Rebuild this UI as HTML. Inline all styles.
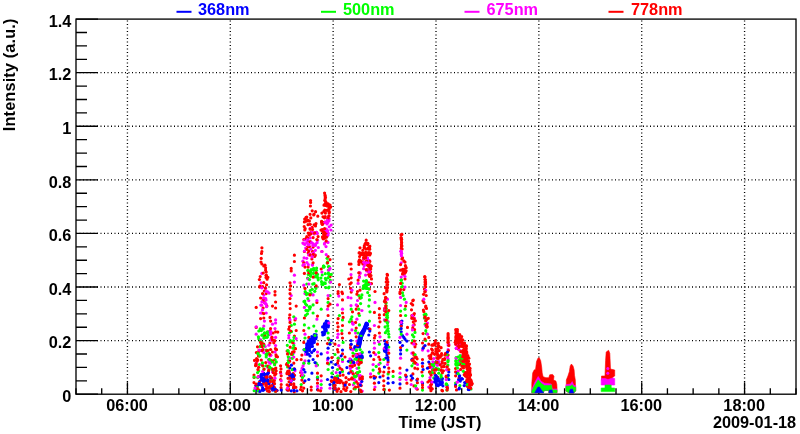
<!DOCTYPE html>
<html><head><meta charset="utf-8"><style>
html,body{margin:0;padding:0;background:#fff;width:800px;height:434px;overflow:hidden}
svg{display:block;will-change:transform}
text{font-family:"Liberation Sans",sans-serif;font-weight:bold;font-size:16.3px;fill:#000}
</style></head><body>
<svg width="800" height="434" viewBox="0 0 800 434">
<rect width="800" height="434" fill="#fff"/>
<g stroke="#000" stroke-width="1.33" stroke-dasharray="1 2.5" fill="none"><line x1="127.43" y1="394.2" x2="127.43" y2="19.1" stroke-dashoffset="1.75"/><line x1="230.29" y1="394.2" x2="230.29" y2="19.1" stroke-dashoffset="1.75"/><line x1="333.14" y1="394.2" x2="333.14" y2="19.1" stroke-dashoffset="1.75"/><line x1="436.00" y1="394.2" x2="436.00" y2="19.1" stroke-dashoffset="1.75"/><line x1="538.86" y1="394.2" x2="538.86" y2="19.1" stroke-dashoffset="1.75"/><line x1="641.71" y1="394.2" x2="641.71" y2="19.1" stroke-dashoffset="1.75"/><line x1="744.57" y1="394.2" x2="744.57" y2="19.1" stroke-dashoffset="1.75"/><line x1="76.0" y1="340.61" x2="796.0" y2="340.61"/><line x1="76.0" y1="287.03" x2="796.0" y2="287.03"/><line x1="76.0" y1="233.44" x2="796.0" y2="233.44"/><line x1="76.0" y1="179.86" x2="796.0" y2="179.86"/><line x1="76.0" y1="126.27" x2="796.0" y2="126.27"/><line x1="76.0" y1="72.69" x2="796.0" y2="72.69"/></g>
<path stroke="#000" stroke-width="1.33" fill="none" d="M76.0 394.20h22M76.0 380.80h11M76.0 367.41h11M76.0 354.01h11M76.0 340.61h22M76.0 327.22h11M76.0 313.82h11M76.0 300.42h11M76.0 287.03h22M76.0 273.63h11M76.0 260.24h11M76.0 246.84h11M76.0 233.44h22M76.0 220.05h11M76.0 206.65h11M76.0 193.25h11M76.0 179.86h22M76.0 166.46h11M76.0 153.06h11M76.0 139.67h11M76.0 126.27h22M76.0 112.88h11M76.0 99.48h11M76.0 86.08h11M76.0 72.69h22M76.0 59.29h11M76.0 45.89h11M76.0 32.50h11M76.0 19.10h22M76.00 394.2v-6M101.71 394.2v-6M127.43 394.2v-12M153.14 394.2v-6M178.86 394.2v-6M204.57 394.2v-6M230.29 394.2v-12M256.00 394.2v-6M281.71 394.2v-6M307.43 394.2v-6M333.14 394.2v-12M358.86 394.2v-6M384.57 394.2v-6M410.29 394.2v-6M436.00 394.2v-12M461.71 394.2v-6M487.43 394.2v-6M513.14 394.2v-6M538.86 394.2v-12M564.57 394.2v-6M590.29 394.2v-6M616.00 394.2v-6M641.71 394.2v-12M667.43 394.2v-6M693.14 394.2v-6M718.86 394.2v-6M744.57 394.2v-12M770.29 394.2v-6M796.00 394.2v-6"/>
<clipPath id="fr"><rect x="76" y="19.1" width="720" height="374.6"/></clipPath><g clip-path="url(#fr)"><g stroke-width="3.2" stroke-linecap="round" fill="none"><path stroke="#ff0000" d="M325.2 216.6h0"/><path stroke="#00ff00" d="M310.6 272.4h0"/><path stroke="#ff0000" d="M293.1 373.5h0M326.2 202.5h0"/><path stroke="#ff00ff" d="M342.5 361.4h0M457.7 346.8h0"/><path stroke="#ff0000" d="M466.7 373.2h0"/><path stroke="#0000ff" d="M368.5 328.6h0"/><path stroke="#ff00ff" d="M436.7 361.7h0"/><path stroke="#00ff00" d="M258.8 338.7h0"/><path stroke="#ff0000" d="M445.1 363.4h0"/><path stroke="#ff00ff" d="M367.0 270.6h0"/><path stroke="#ff0000" d="M441.1 347.7h0"/><path stroke="#0000ff" d="M360.9 339.8h0"/><path stroke="#ff0000" d="M338.1 293.6h0"/><path stroke="#00ff00" d="M291.7 354.7h0"/><path stroke="#ff00ff" d="M357.1 368.3h0"/><path stroke="#0000ff" d="M387.0 355.0h0"/><path stroke="#ff00ff" d="M293.8 352.6h0"/><path stroke="#0000ff" d="M260.7 384.4h0M314.6 349.6h0"/><path stroke="#00ff00" d="M309.4 307.2h0"/><path stroke="#ff00ff" d="M272.5 372.0h0"/><path stroke="#ff0000" d="M331.9 357.6h0"/><path stroke="#ff00ff" d="M358.1 283.4h0"/><path stroke="#0000ff" d="M308.4 344.0h0"/><path stroke="#00ff00" d="M458.3 364.7h0"/><path stroke="#ff0000" d="M256.4 352.6h0M422.5 366.4h0M323.0 216.8h0"/><path stroke="#ff00ff" d="M302.2 368.2h0"/><path stroke="#00ff00" d="M328.6 287.8h0M309.6 307.1h0"/><path stroke="#ff0000" d="M306.1 217.4h0"/><path stroke="#00ff00" d="M355.2 354.4h0M342.5 359.5h0M343.1 342.4h0M266.6 354.0h0M387.7 325.7h0"/><path stroke="#ff0000" d="M259.4 279.6h0"/><path stroke="#ff00ff" d="M433.9 358.5h0"/><path stroke="#00ff00" d="M351.9 316.8h0M361.2 362.0h0M262.1 342.4h0"/><path stroke="#ff0000" d="M426.8 327.0h0M352.0 377.8h0"/><path stroke="#ff00ff" d="M360.7 383.0h0"/><path stroke="#ff0000" d="M426.2 295.5h0"/><path stroke="#0000ff" d="M322.8 334.9h0"/><path stroke="#00ff00" d="M330.2 280.1h0"/><path stroke="#ff00ff" d="M448.1 345.0h0"/><path stroke="#ff0000" d="M281.0 368.9h0"/><path stroke="#ff00ff" d="M384.4 319.9h0"/><path stroke="#ff0000" d="M294.2 368.8h0M463.2 345.6h0"/><path stroke="#00ff00" d="M308.3 274.5h0"/><path stroke="#ff00ff" d="M375.6 354.5h0"/><path stroke="#00ff00" d="M306.8 284.0h0"/><path stroke="#0000ff" d="M287.5 390.1h0"/><path stroke="#ff0000" d="M461.7 340.8h0"/><path stroke="#0000ff" d="M263.6 373.1h0"/><path stroke="#00ff00" d="M266.2 365.8h0M406.9 350.1h0"/><path stroke="#ff00ff" d="M304.0 363.2h0"/><path stroke="#ff0000" d="M290.6 285.9h0M443.6 366.7h0M363.6 257.5h0"/><path stroke="#ff00ff" d="M260.8 341.8h0"/><path stroke="#ff0000" d="M438.3 343.4h0M324.5 217.8h0"/><path stroke="#0000ff" d="M314.2 342.4h0"/><path stroke="#ff00ff" d="M373.1 364.5h0"/><path stroke="#ff0000" d="M266.2 293.6h0M425.3 290.1h0M464.4 354.8h0"/><path stroke="#0000ff" d="M440.3 382.5h0"/><path stroke="#00ff00" d="M425.6 340.5h0"/><path stroke="#ff0000" d="M280.6 379.5h0"/><path stroke="#0000ff" d="M386.2 346.1h0"/><path stroke="#00ff00" d="M456.1 357.7h0M378.8 373.2h0"/><path stroke="#ff00ff" d="M401.2 262.8h0"/><path stroke="#ff0000" d="M254.5 360.4h0M413.9 354.9h0"/><path stroke="#ff00ff" d="M261.9 273.4h0"/><path stroke="#ff0000" d="M368.7 274.5h0"/><path stroke="#ff00ff" d="M267.6 291.8h0"/><path stroke="#ff0000" d="M434.3 373.2h0"/><path stroke="#00ff00" d="M307.6 278.0h0"/><path stroke="#ff0000" d="M275.6 302.0h0M303.8 330.5h0"/><path stroke="#0000ff" d="M290.4 375.2h0M307.5 349.5h0"/><path stroke="#ff0000" d="M344.0 386.2h0M329.1 212.9h0M330.0 205.0h0M315.3 255.2h0M384.6 308.5h0"/><path stroke="#0000ff" d="M265.9 381.9h0M400.6 350.1h0"/><path stroke="#ff0000" d="M363.2 254.8h0"/><path stroke="#00ff00" d="M425.6 314.0h0"/><path stroke="#ff00ff" d="M400.0 373.2h0"/><path stroke="#ff0000" d="M423.1 333.6h0"/><path stroke="#00ff00" d="M400.6 311.1h0"/><path stroke="#ff0000" d="M456.5 389.9h0M457.7 344.8h0"/><path stroke="#00ff00" d="M388.1 373.9h0"/><path stroke="#0000ff" d="M257.8 390.7h0"/><path stroke="#ff0000" d="M306.8 236.5h0M258.3 352.6h0M342.5 299.9h0"/><path stroke="#ff00ff" d="M293.8 343.6h0"/><path stroke="#0000ff" d="M267.4 373.8h0"/><path stroke="#ff0000" d="M467.8 380.8h0M426.5 308.4h0M327.0 236.2h0"/><path stroke="#0000ff" d="M293.3 375.0h0"/><path stroke="#ff0000" d="M466.8 377.2h0M256.2 365.2h0M467.5 362.4h0M471.4 384.9h0M316.3 232.3h0M364.3 263.8h0M308.0 224.7h0"/><path stroke="#00ff00" d="M314.4 276.8h0"/><path stroke="#ff0000" d="M258.4 376.5h0M430.9 355.1h0"/><path stroke="#00ff00" d="M318.2 279.8h0M263.8 338.1h0"/><path stroke="#ff0000" d="M321.9 251.5h0M338.2 380.1h0"/><path stroke="#ff00ff" d="M261.7 305.2h0"/><path stroke="#ff0000" d="M313.7 214.9h0"/><path stroke="#ff00ff" d="M363.6 268.7h0"/><path stroke="#ff0000" d="M360.0 290.2h0M305.2 228.5h0M407.5 327.4h0M414.6 362.0h0"/><path stroke="#ff00ff" d="M281.2 380.8h0"/><path stroke="#ff0000" d="M274.7 363.8h0M466.3 348.7h0"/><path stroke="#0000ff" d="M293.6 378.0h0"/><path stroke="#00ff00" d="M447.9 378.3h0"/><path stroke="#ff0000" d="M462.7 359.5h0M425.0 282.1h0M321.6 221.3h0M351.9 321.8h0M357.0 356.8h0M349.4 333.0h0M264.5 334.0h0M357.8 383.6h0M459.2 337.0h0M470.8 379.8h0M345.9 382.6h0M317.8 216.2h0M465.4 375.9h0M351.4 378.9h0"/><path stroke="#ff00ff" d="M260.8 305.1h0"/><path stroke="#00ff00" d="M266.8 354.8h0"/><path stroke="#ff0000" d="M456.4 348.4h0M273.1 333.0h0"/><path stroke="#0000ff" d="M401.2 325.5h0"/><path stroke="#ff0000" d="M266.7 384.4h0"/><path stroke="#0000ff" d="M459.5 375.6h0"/><path stroke="#ff0000" d="M466.7 360.4h0M296.8 359.7h0M368.4 254.1h0"/><path stroke="#ff00ff" d="M305.0 360.8h0"/><path stroke="#ff0000" d="M273.5 382.3h0"/><path stroke="#0000ff" d="M386.9 343.0h0"/><path stroke="#ff00ff" d="M360.2 375.5h0"/><path stroke="#ff0000" d="M431.2 381.9h0"/><path stroke="#00ff00" d="M386.2 305.8h0"/><path stroke="#0000ff" d="M312.4 346.4h0"/><path stroke="#00ff00" d="M422.5 390.1h0"/><path stroke="#ff0000" d="M345.7 390.4h0M447.5 388.2h0M459.8 342.7h0"/><path stroke="#0000ff" d="M350.9 359.9h0"/><path stroke="#00ff00" d="M315.9 288.3h0M379.4 344.2h0"/><path stroke="#ff00ff" d="M291.2 295.5h0"/><path stroke="#ff0000" d="M358.8 313.6h0M467.8 355.6h0"/><path stroke="#ff00ff" d="M329.1 218.8h0"/><path stroke="#ff0000" d="M401.4 244.6h0M457.4 330.9h0M457.4 329.5h0M300.6 372.6h0M301.2 387.0h0"/><path stroke="#0000ff" d="M322.5 332.4h0"/><path stroke="#ff0000" d="M417.6 368.8h0"/><path stroke="#ff00ff" d="M304.1 257.8h0"/><path stroke="#00ff00" d="M329.4 266.9h0"/><path stroke="#ff00ff" d="M313.6 254.3h0"/><path stroke="#ff0000" d="M361.6 358.3h0"/><path stroke="#00ff00" d="M328.8 363.9h0"/><path stroke="#ff0000" d="M345.0 357.0h0"/><path stroke="#ff00ff" d="M367.5 260.3h0"/><path stroke="#00ff00" d="M292.7 354.4h0"/><path stroke="#0000ff" d="M309.7 347.7h0"/><path stroke="#00ff00" d="M362.1 357.1h0"/><path stroke="#0000ff" d="M442.0 380.9h0"/><path stroke="#ff0000" d="M373.8 352.6h0"/><path stroke="#0000ff" d="M324.5 333.1h0"/><path stroke="#ff0000" d="M348.8 279.0h0M367.2 269.7h0"/><path stroke="#0000ff" d="M384.8 351.3h0"/><path stroke="#ff00ff" d="M338.8 296.1h0"/><path stroke="#ff0000" d="M369.3 270.5h0"/><path stroke="#0000ff" d="M388.1 383.2h0"/><path stroke="#ff0000" d="M350.8 361.2h0"/><path stroke="#0000ff" d="M435.4 380.1h0"/><path stroke="#ff0000" d="M467.3 384.7h0M342.5 313.0h0M346.0 377.7h0"/><path stroke="#ff00ff" d="M314.2 234.0h0"/><path stroke="#0000ff" d="M459.7 379.1h0"/><path stroke="#ff00ff" d="M326.6 232.2h0"/><path stroke="#00ff00" d="M363.6 281.1h0"/><path stroke="#ff00ff" d="M267.9 367.4h0"/><path stroke="#00ff00" d="M268.9 353.2h0"/><path stroke="#ff0000" d="M417.2 389.2h0"/><path stroke="#00ff00" d="M304.4 324.9h0"/><path stroke="#ff0000" d="M421.9 372.0h0"/><path stroke="#ff00ff" d="M301.9 373.2h0"/><path stroke="#00ff00" d="M323.4 267.2h0"/><path stroke="#ff0000" d="M401.5 246.3h0M417.1 358.8h0"/><path stroke="#ff00ff" d="M308.8 300.5h0M337.5 304.9h0"/><path stroke="#00ff00" d="M259.5 356.1h0"/><path stroke="#ff0000" d="M324.4 232.5h0"/><path stroke="#0000ff" d="M406.9 341.1h0M448.8 372.0h0"/><path stroke="#ff00ff" d="M351.0 274.6h0M260.6 339.9h0"/><path stroke="#00ff00" d="M351.0 319.2h0"/><path stroke="#ff0000" d="M346.9 387.7h0M461.2 359.5h0M263.1 349.5h0"/><path stroke="#00ff00" d="M426.5 326.5h0"/><path stroke="#ff0000" d="M328.8 339.2h0M310.8 217.9h0M364.4 247.8h0M293.3 374.0h0"/><path stroke="#0000ff" d="M256.0 388.9h0"/><path stroke="#00ff00" d="M258.7 370.8h0"/><path stroke="#ff0000" d="M375.6 377.0h0"/><path stroke="#00ff00" d="M426.3 333.6h0"/><path stroke="#ff0000" d="M412.8 300.7h0M258.6 389.8h0M429.0 356.1h0M405.6 272.1h0"/><path stroke="#0000ff" d="M366.8 324.7h0"/><path stroke="#ff0000" d="M342.5 325.5h0M275.6 308.0h0"/><path stroke="#00ff00" d="M402.1 283.2h0"/><path stroke="#ff0000" d="M301.2 375.8h0M470.1 374.4h0"/><path stroke="#ff00ff" d="M295.0 370.8h0"/><path stroke="#ff0000" d="M384.4 301.4h0M281.0 387.6h0M463.0 354.1h0"/><path stroke="#0000ff" d="M326.3 331.0h0"/><path stroke="#ff0000" d="M401.2 326.1h0M264.4 302.4h0M384.4 340.5h0M277.0 390.5h0M254.0 375.0h0"/><path stroke="#ff00ff" d="M367.8 270.6h0"/><path stroke="#ff0000" d="M402.8 269.8h0"/><path stroke="#00ff00" d="M266.1 354.6h0"/><path stroke="#ff0000" d="M261.3 360.1h0"/><path stroke="#00ff00" d="M357.7 373.0h0"/><path stroke="#ff0000" d="M471.2 382.8h0M461.1 340.9h0M308.2 252.9h0M412.9 373.9h0M400.0 388.2h0"/><path stroke="#ff00ff" d="M328.6 216.4h0"/><path stroke="#ff0000" d="M340.0 375.5h0"/><path stroke="#0000ff" d="M467.4 385.9h0"/><path stroke="#ff0000" d="M371.0 275.5h0M290.0 289.6h0"/><path stroke="#0000ff" d="M290.7 382.1h0"/><path stroke="#ff00ff" d="M272.0 337.2h0"/><path stroke="#0000ff" d="M304.0 349.8h0"/><path stroke="#ff0000" d="M304.2 226.5h0M294.4 261.5h0"/><path stroke="#00ff00" d="M266.2 350.1h0M269.8 367.8h0"/><path stroke="#0000ff" d="M406.2 376.4h0"/><path stroke="#00ff00" d="M288.7 352.8h0M464.4 365.5h0"/><path stroke="#ff0000" d="M268.0 373.3h0"/><path stroke="#00ff00" d="M271.2 379.5h0"/><path stroke="#ff0000" d="M324.8 200.6h0"/><path stroke="#0000ff" d="M312.1 342.4h0"/><path stroke="#ff0000" d="M383.8 372.0h0M290.2 308.6h0M275.4 348.5h0"/><path stroke="#00ff00" d="M308.8 363.2h0"/><path stroke="#ff0000" d="M446.9 367.0h0M448.1 342.5h0"/><path stroke="#0000ff" d="M437.2 385.3h0"/><path stroke="#ff0000" d="M406.1 270.8h0M371.5 283.6h0"/><path stroke="#0000ff" d="M276.8 390.3h0"/><path stroke="#ff0000" d="M388.1 362.0h0M258.5 355.9h0"/><path stroke="#0000ff" d="M306.8 345.9h0"/><path stroke="#ff0000" d="M432.3 388.8h0M471.4 381.3h0"/><path stroke="#ff00ff" d="M265.6 288.4h0"/><path stroke="#ff0000" d="M386.9 290.9h0M268.5 371.7h0M327.0 210.4h0M385.9 302.6h0"/><path stroke="#00ff00" d="M471.0 389.0h0M324.2 282.9h0"/><path stroke="#ff00ff" d="M338.8 365.8h0"/><path stroke="#ff0000" d="M274.7 375.2h0M370.0 276.5h0M469.6 374.3h0M460.9 342.9h0M362.1 253.1h0M288.8 329.2h0M287.1 351.0h0"/><path stroke="#0000ff" d="M305.9 353.1h0"/><path stroke="#ff0000" d="M256.8 386.3h0"/><path stroke="#00ff00" d="M385.1 326.9h0M341.9 330.5h0M273.4 369.4h0"/><path stroke="#0000ff" d="M264.4 389.5h0"/><path stroke="#ff0000" d="M263.8 318.0h0"/><path stroke="#0000ff" d="M437.3 378.7h0"/><path stroke="#ff0000" d="M373.8 376.4h0M339.4 284.6h0M270.6 321.1h0"/><path stroke="#ff00ff" d="M310.5 241.9h0"/><path stroke="#ff0000" d="M350.0 284.0h0"/><path stroke="#00ff00" d="M265.2 336.3h0M311.2 293.7h0"/><path stroke="#ff0000" d="M456.2 335.5h0M400.6 321.8h0M423.4 310.1h0M257.7 359.9h0M343.1 375.1h0"/><path stroke="#ff00ff" d="M263.8 352.6h0"/><path stroke="#0000ff" d="M364.3 330.9h0"/><path stroke="#ff0000" d="M325.0 204.6h0M469.9 370.2h0"/><path stroke="#0000ff" d="M458.8 379.7h0"/><path stroke="#00ff00" d="M306.7 305.2h0"/><path stroke="#ff0000" d="M335.0 344.2h0M265.7 378.5h0M464.5 343.2h0"/><path stroke="#00ff00" d="M352.9 353.0h0"/><path stroke="#ff00ff" d="M304.8 244.4h0M353.3 384.8h0"/><path stroke="#ff0000" d="M288.4 388.6h0M264.3 380.3h0M470.5 375.1h0M428.3 318.3h0M321.2 269.0h0M370.0 275.5h0"/><path stroke="#ff00ff" d="M303.1 365.8h0"/><path stroke="#ff0000" d="M469.9 375.5h0M264.4 336.1h0"/><path stroke="#00ff00" d="M301.2 384.5h0"/><path stroke="#ff0000" d="M273.2 370.7h0M429.7 363.9h0"/><path stroke="#ff00ff" d="M427.5 334.2h0"/><path stroke="#ff0000" d="M289.1 381.8h0"/><path stroke="#ff00ff" d="M266.2 313.0h0"/><path stroke="#ff0000" d="M385.8 308.1h0M384.4 310.5h0M323.6 233.9h0M431.1 372.8h0M435.9 348.9h0M296.2 306.1h0M308.8 250.9h0"/><path stroke="#00ff00" d="M376.2 366.4h0"/><path stroke="#0000ff" d="M326.2 323.7h0"/><path stroke="#ff0000" d="M360.6 260.9h0M294.4 348.2h0M275.6 391.5h0M388.1 357.6h0M334.1 380.4h0M291.5 353.9h0M427.0 326.9h0M328.1 315.5h0"/><path stroke="#00ff00" d="M436.2 368.2h0"/><path stroke="#ff0000" d="M464.1 343.7h0"/><path stroke="#0000ff" d="M291.4 376.0h0"/><path stroke="#ff0000" d="M445.8 354.9h0M325.5 201.6h0"/><path stroke="#00ff00" d="M462.3 366.0h0"/><path stroke="#ff0000" d="M441.1 370.1h0"/><path stroke="#00ff00" d="M268.2 366.7h0"/><path stroke="#ff0000" d="M457.6 335.1h0"/><path stroke="#0000ff" d="M362.4 334.8h0"/><path stroke="#00ff00" d="M447.9 361.7h0"/><path stroke="#0000ff" d="M365.2 328.8h0"/><path stroke="#00ff00" d="M257.7 377.6h0"/><path stroke="#ff0000" d="M435.5 343.3h0M370.1 253.1h0M303.8 239.6h0"/><path stroke="#00ff00" d="M455.6 383.0h0"/><path stroke="#ff00ff" d="M378.8 341.8h0"/><path stroke="#ff0000" d="M411.2 380.1h0M461.4 344.6h0M338.7 388.8h0M412.7 304.9h0"/><path stroke="#ff00ff" d="M424.4 318.0h0"/><path stroke="#ff0000" d="M344.6 384.6h0"/><path stroke="#00ff00" d="M327.2 263.1h0"/><path stroke="#ff0000" d="M312.2 210.8h0"/><path stroke="#00ff00" d="M438.5 369.4h0"/><path stroke="#0000ff" d="M326.0 329.3h0"/><path stroke="#ff0000" d="M364.3 245.9h0M468.2 357.6h0M359.4 276.5h0M323.7 222.7h0M267.9 277.3h0"/><path stroke="#00ff00" d="M326.1 279.9h0M367.7 292.6h0M425.1 324.2h0"/><path stroke="#ff00ff" d="M306.9 262.5h0"/><path stroke="#ff0000" d="M308.2 233.2h0M311.1 232.2h0M466.8 361.0h0"/><path stroke="#ff00ff" d="M437.4 365.3h0"/><path stroke="#ff0000" d="M330.0 276.5h0M265.6 270.2h0"/><path stroke="#ff00ff" d="M275.6 345.5h0"/><path stroke="#ff0000" d="M415.0 357.5h0"/><path stroke="#0000ff" d="M262.6 374.8h0"/><path stroke="#00ff00" d="M307.4 313.8h0"/><path stroke="#0000ff" d="M293.1 369.3h0"/><path stroke="#ff00ff" d="M265.6 298.6h0"/><path stroke="#ff0000" d="M327.9 217.9h0"/><path stroke="#00ff00" d="M268.6 334.8h0"/><path stroke="#ff0000" d="M263.3 273.0h0"/><path stroke="#0000ff" d="M348.5 361.3h0"/><path stroke="#ff0000" d="M411.9 343.0h0M275.0 294.9h0M442.4 372.8h0"/><path stroke="#00ff00" d="M413.8 363.2h0"/><path stroke="#ff00ff" d="M427.5 323.0h0"/><path stroke="#ff0000" d="M357.5 306.1h0"/><path stroke="#00ff00" d="M328.1 369.5h0"/><path stroke="#ff0000" d="M465.9 355.5h0M438.5 355.4h0"/><path stroke="#0000ff" d="M263.2 381.2h0"/><path stroke="#ff0000" d="M351.2 292.1h0"/><path stroke="#ff00ff" d="M400.6 297.4h0"/><path stroke="#0000ff" d="M351.0 349.0h0"/><path stroke="#00ff00" d="M323.6 266.1h0"/><path stroke="#ff0000" d="M276.0 349.7h0M387.8 281.9h0"/><path stroke="#ff00ff" d="M268.8 362.0h0"/><path stroke="#ff0000" d="M275.1 369.2h0"/><path stroke="#ff00ff" d="M321.2 388.2h0M388.1 350.1h0M256.2 363.2h0M327.9 222.5h0M436.3 363.8h0M414.4 318.0h0"/><path stroke="#ff0000" d="M425.8 306.0h0M366.2 240.2h0M369.9 265.8h0"/><path stroke="#0000ff" d="M405.0 339.2h0M448.8 379.5h0"/><path stroke="#ff00ff" d="M364.6 264.4h0"/><path stroke="#ff0000" d="M267.1 279.2h0M331.9 381.5h0"/><path stroke="#00ff00" d="M288.8 357.8h0M402.5 286.5h0"/><path stroke="#ff0000" d="M380.0 371.4h0M337.5 363.2h0M295.5 348.7h0M308.1 220.5h0M266.3 275.4h0M354.0 364.3h0M266.2 333.0h0"/><path stroke="#ff00ff" d="M265.1 298.6h0"/><path stroke="#ff0000" d="M465.0 358.5h0M386.2 282.1h0M427.1 326.3h0M384.1 293.7h0M457.3 339.1h0"/><path stroke="#ff00ff" d="M456.3 348.4h0"/><path stroke="#0000ff" d="M308.8 379.5h0"/><path stroke="#ff0000" d="M469.9 368.2h0"/><path stroke="#00ff00" d="M369.4 299.9h0"/><path stroke="#ff00ff" d="M465.0 360.0h0M348.1 297.4h0"/><path stroke="#00ff00" d="M360.6 303.6h0"/><path stroke="#ff00ff" d="M329.0 220.7h0M359.4 277.4h0"/><path stroke="#0000ff" d="M412.5 378.2h0"/><path stroke="#ff0000" d="M402.7 269.4h0"/><path stroke="#0000ff" d="M324.5 328.7h0M267.1 374.1h0"/><path stroke="#ff0000" d="M259.9 286.1h0"/><path stroke="#0000ff" d="M470.1 387.8h0M422.5 383.2h0"/><path stroke="#ff0000" d="M260.6 298.0h0M459.0 377.9h0M272.0 378.0h0M362.8 250.3h0"/><path stroke="#ff00ff" d="M367.4 269.8h0"/><path stroke="#ff0000" d="M309.4 246.7h0"/><path stroke="#ff00ff" d="M448.8 344.2h0"/><path stroke="#00ff00" d="M458.6 360.5h0"/><path stroke="#ff0000" d="M430.1 380.0h0M448.1 338.0h0M463.5 368.0h0"/><path stroke="#ff00ff" d="M416.2 388.2h0"/><path stroke="#00ff00" d="M313.1 304.9h0"/><path stroke="#ff0000" d="M426.6 319.4h0M367.6 254.4h0"/><path stroke="#0000ff" d="M358.5 341.5h0"/><path stroke="#ff0000" d="M378.8 326.8h0"/><path stroke="#ff00ff" d="M356.9 319.2h0"/><path stroke="#ff0000" d="M425.0 284.6h0M401.7 242.7h0M321.9 213.1h0M337.0 380.7h0"/><path stroke="#ff00ff" d="M462.5 355.6h0M308.6 254.9h0"/><path stroke="#00ff00" d="M275.0 359.5h0"/><path stroke="#ff00ff" d="M294.4 275.2h0"/><path stroke="#0000ff" d="M289.3 372.5h0M317.5 389.5h0"/><path stroke="#ff0000" d="M303.8 265.0h0"/><path stroke="#0000ff" d="M401.2 331.8h0"/><path stroke="#ff00ff" d="M358.1 375.5h0"/><path stroke="#ff0000" d="M305.0 267.1h0M464.8 359.2h0"/><path stroke="#0000ff" d="M359.1 339.5h0"/><path stroke="#00ff00" d="M402.5 292.8h0"/><path stroke="#ff0000" d="M360.0 339.2h0"/><path stroke="#00ff00" d="M316.2 331.1h0"/><path stroke="#0000ff" d="M352.2 361.4h0"/><path stroke="#ff0000" d="M467.1 385.9h0M428.8 344.2h0"/><path stroke="#0000ff" d="M366.2 323.0h0"/><path stroke="#ff0000" d="M366.0 249.1h0M373.8 359.5h0"/><path stroke="#ff00ff" d="M366.7 270.9h0M336.2 372.6h0"/><path stroke="#00ff00" d="M352.2 371.5h0"/><path stroke="#0000ff" d="M440.7 378.7h0"/><path stroke="#ff0000" d="M308.1 240.9h0"/><path stroke="#00ff00" d="M387.5 317.6h0"/><path stroke="#ff0000" d="M383.1 375.8h0M463.3 352.3h0M263.1 308.0h0"/><path stroke="#00ff00" d="M367.0 288.4h0"/><path stroke="#ff0000" d="M350.8 391.6h0"/><path stroke="#00ff00" d="M263.0 328.6h0M258.4 391.0h0"/><path stroke="#ff0000" d="M468.8 378.2h0M304.4 251.5h0M359.8 378.1h0M405.6 306.1h0M469.5 385.5h0M307.5 247.0h0"/><path stroke="#ff00ff" d="M448.1 358.8h0"/><path stroke="#0000ff" d="M332.5 367.6h0"/><path stroke="#ff0000" d="M275.7 373.5h0"/><path stroke="#0000ff" d="M435.4 375.5h0"/><path stroke="#ff0000" d="M355.6 322.4h0M465.5 354.1h0M379.4 368.9h0"/><path stroke="#0000ff" d="M313.1 359.5h0M455.6 385.2h0"/><path stroke="#ff0000" d="M401.2 239.6h0M368.2 266.0h0M430.9 388.6h0M313.1 247.1h0"/><path stroke="#0000ff" d="M366.4 325.7h0"/><path stroke="#ff0000" d="M470.3 382.0h0"/><path stroke="#0000ff" d="M447.1 385.6h0M281.2 390.1h0"/><path stroke="#00ff00" d="M328.4 266.7h0M287.3 345.3h0"/><path stroke="#ff0000" d="M464.2 374.8h0M363.6 259.1h0"/><path stroke="#0000ff" d="M309.7 350.4h0"/><path stroke="#ff00ff" d="M280.6 373.2h0"/><path stroke="#ff0000" d="M272.5 306.1h0"/><path stroke="#0000ff" d="M308.3 340.9h0"/><path stroke="#ff0000" d="M358.9 264.4h0M269.7 381.2h0"/><path stroke="#ff00ff" d="M308.8 284.0h0"/><path stroke="#ff0000" d="M329.0 215.8h0"/><path stroke="#00ff00" d="M387.2 312.7h0"/><path stroke="#ff0000" d="M369.8 254.9h0"/><path stroke="#ff00ff" d="M458.2 371.1h0"/><path stroke="#0000ff" d="M311.8 336.6h0M461.8 378.7h0"/><path stroke="#ff0000" d="M290.4 378.4h0"/><path stroke="#0000ff" d="M262.6 387.7h0"/><path stroke="#00ff00" d="M335.0 377.0h0"/><path stroke="#ff0000" d="M425.7 320.7h0M354.1 388.7h0"/><path stroke="#ff00ff" d="M359.4 272.8h0"/><path stroke="#ff0000" d="M461.9 358.0h0"/><path stroke="#ff00ff" d="M310.2 254.2h0"/><path stroke="#ff0000" d="M403.8 289.6h0"/><path stroke="#00ff00" d="M441.9 378.8h0M412.5 340.5h0"/><path stroke="#0000ff" d="M359.7 337.4h0"/><path stroke="#ff0000" d="M379.4 318.0h0"/><path stroke="#0000ff" d="M354.1 348.7h0"/><path stroke="#00ff00" d="M288.3 360.5h0"/><path stroke="#ff0000" d="M359.5 259.8h0M430.4 366.9h0"/><path stroke="#00ff00" d="M356.3 350.4h0"/><path stroke="#ff0000" d="M467.4 363.9h0M369.0 283.6h0"/><path stroke="#00ff00" d="M365.0 284.9h0"/><path stroke="#ff00ff" d="M461.2 345.0h0"/><path stroke="#00ff00" d="M305.3 303.5h0M356.0 349.8h0"/><path stroke="#0000ff" d="M312.5 338.9h0"/><path stroke="#ff0000" d="M401.9 245.9h0"/><path stroke="#00ff00" d="M387.0 320.0h0"/><path stroke="#ff0000" d="M317.5 355.8h0M445.8 353.4h0M257.9 369.5h0"/><path stroke="#ff00ff" d="M369.4 260.5h0"/><path stroke="#ff0000" d="M315.6 211.7h0M467.5 369.4h0"/><path stroke="#00ff00" d="M328.1 302.4h0"/><path stroke="#ff0000" d="M465.1 356.2h0M412.2 318.1h0"/><path stroke="#00ff00" d="M388.8 347.0h0M264.4 332.9h0"/><path stroke="#ff00ff" d="M456.2 358.4h0"/><path stroke="#ff0000" d="M286.6 364.6h0"/><path stroke="#00ff00" d="M259.5 364.5h0"/><path stroke="#ff0000" d="M335.0 385.1h0M417.4 382.7h0"/><path stroke="#ff00ff" d="M401.2 254.6h0"/><path stroke="#ff0000" d="M310.2 255.2h0M365.6 252.4h0"/><path stroke="#0000ff" d="M324.1 326.9h0"/><path stroke="#ff00ff" d="M355.6 333.0h0"/><path stroke="#00ff00" d="M339.4 315.5h0"/><path stroke="#ff0000" d="M441.7 366.9h0"/><path stroke="#00ff00" d="M328.3 270.0h0M432.4 372.5h0"/><path stroke="#ff0000" d="M467.7 357.1h0"/><path stroke="#0000ff" d="M466.9 381.7h0"/><path stroke="#00ff00" d="M267.3 333.1h0"/><path stroke="#ff0000" d="M362.0 261.9h0"/><path stroke="#ff00ff" d="M264.4 321.1h0"/><path stroke="#0000ff" d="M469.0 389.6h0"/><path stroke="#ff0000" d="M414.2 324.7h0M331.6 381.0h0M458.8 349.3h0M459.4 341.0h0"/><path stroke="#00ff00" d="M291.5 331.6h0M316.1 273.0h0"/><path stroke="#0000ff" d="M314.2 338.4h0"/><path stroke="#ff0000" d="M412.7 358.9h0M325.0 222.2h0"/><path stroke="#0000ff" d="M441.7 384.1h0"/><path stroke="#ff0000" d="M268.2 366.2h0"/><path stroke="#ff00ff" d="M328.8 270.2h0"/><path stroke="#ff0000" d="M463.8 354.8h0M369.6 274.0h0"/><path stroke="#00ff00" d="M316.3 277.0h0"/><path stroke="#0000ff" d="M359.4 347.0h0"/><path stroke="#00ff00" d="M425.8 330.7h0"/><path stroke="#ff0000" d="M434.2 344.9h0M431.1 358.7h0"/><path stroke="#00ff00" d="M380.0 363.2h0"/><path stroke="#ff00ff" d="M433.1 367.2h0M448.1 349.7h0"/><path stroke="#ff0000" d="M371.5 278.9h0"/><path stroke="#ff00ff" d="M288.8 338.0h0"/><path stroke="#ff0000" d="M406.2 267.7h0M370.5 272.2h0M465.1 372.7h0"/><path stroke="#ff00ff" d="M459.4 350.0h0"/><path stroke="#ff0000" d="M254.0 382.6h0M267.7 387.6h0"/><path stroke="#00ff00" d="M310.8 276.1h0M360.3 297.3h0"/><path stroke="#0000ff" d="M270.1 388.1h0"/><path stroke="#ff0000" d="M387.1 274.3h0M400.6 315.5h0"/><path stroke="#0000ff" d="M264.1 382.1h0"/><path stroke="#00ff00" d="M366.0 282.5h0M426.1 314.8h0"/><path stroke="#ff00ff" d="M256.2 334.2h0"/><path stroke="#0000ff" d="M348.8 373.2h0"/><path stroke="#ff0000" d="M468.3 368.9h0"/><path stroke="#0000ff" d="M361.9 353.0h0"/><path stroke="#ff0000" d="M356.2 309.2h0M423.8 311.6h0"/><path stroke="#0000ff" d="M416.9 380.1h0"/><path stroke="#00ff00" d="M360.3 297.9h0"/><path stroke="#ff0000" d="M431.2 366.9h0M465.7 361.8h0"/><path stroke="#ff00ff" d="M330.0 388.2h0"/><path stroke="#ff0000" d="M413.8 314.7h0"/><path stroke="#0000ff" d="M308.8 360.8h0"/><path stroke="#ff0000" d="M463.9 361.2h0M437.0 358.2h0"/><path stroke="#ff00ff" d="M413.1 325.5h0"/><path stroke="#0000ff" d="M364.8 329.9h0"/><path stroke="#ff0000" d="M416.0 363.3h0"/><path stroke="#ff00ff" d="M305.6 354.5h0"/><path stroke="#00ff00" d="M264.7 333.4h0"/><path stroke="#ff0000" d="M276.1 390.1h0"/><path stroke="#ff00ff" d="M313.4 253.2h0"/><path stroke="#ff0000" d="M387.0 279.7h0"/><path stroke="#0000ff" d="M387.5 344.9h0M439.1 384.5h0"/><path stroke="#ff00ff" d="M318.3 247.5h0"/><path stroke="#ff0000" d="M322.3 224.5h0"/><path stroke="#0000ff" d="M359.4 338.4h0"/><path stroke="#ff0000" d="M369.4 272.8h0"/><path stroke="#00ff00" d="M273.1 370.2h0"/><path stroke="#ff0000" d="M351.0 264.0h0"/><path stroke="#00ff00" d="M400.0 329.2h0"/><path stroke="#ff0000" d="M455.6 371.9h0"/><path stroke="#0000ff" d="M351.0 340.5h0M264.7 381.3h0"/><path stroke="#ff0000" d="M366.8 253.0h0"/><path stroke="#ff00ff" d="M405.0 287.1h0M328.0 242.4h0"/><path stroke="#ff0000" d="M327.5 363.2h0M465.5 345.8h0M340.0 368.2h0"/><path stroke="#00ff00" d="M313.9 270.3h0M321.8 284.2h0"/><path stroke="#ff0000" d="M329.0 205.2h0"/><path stroke="#00ff00" d="M384.4 389.5h0"/><path stroke="#0000ff" d="M386.0 350.0h0M459.0 389.0h0"/><path stroke="#00ff00" d="M266.8 337.3h0"/><path stroke="#ff00ff" d="M368.2 260.1h0"/><path stroke="#ff0000" d="M359.0 359.7h0"/><path stroke="#0000ff" d="M293.8 388.4h0"/><path stroke="#ff0000" d="M273.8 342.8h0"/><path stroke="#ff00ff" d="M305.0 334.2h0"/><path stroke="#00ff00" d="M263.2 329.0h0"/><path stroke="#ff00ff" d="M305.7 248.1h0M328.4 233.3h0"/><path stroke="#00ff00" d="M322.9 284.6h0"/><path stroke="#ff0000" d="M378.8 357.0h0"/><path stroke="#0000ff" d="M324.7 331.1h0"/><path stroke="#ff0000" d="M274.6 387.7h0M350.6 344.9h0"/><path stroke="#ff00ff" d="M360.0 354.7h0"/><path stroke="#ff0000" d="M448.8 345.5h0"/><path stroke="#ff00ff" d="M369.9 266.2h0M378.8 364.5h0"/><path stroke="#ff0000" d="M400.6 347.6h0"/><path stroke="#ff00ff" d="M360.0 272.8h0"/><path stroke="#ff0000" d="M256.0 363.9h0"/><path stroke="#ff00ff" d="M330.0 268.4h0"/><path stroke="#00ff00" d="M258.4 336.8h0"/><path stroke="#ff0000" d="M457.5 340.9h0M465.5 365.1h0"/><path stroke="#00ff00" d="M389.0 337.0h0"/><path stroke="#ff0000" d="M322.7 231.4h0M404.4 269.0h0M425.0 339.2h0M370.6 377.0h0M461.5 340.4h0M262.6 286.7h0M442.8 359.4h0M467.4 363.8h0M431.5 384.3h0"/><path stroke="#00ff00" d="M438.8 373.2h0"/><path stroke="#ff0000" d="M314.6 256.5h0"/><path stroke="#00ff00" d="M325.3 273.7h0M303.8 375.8h0"/><path stroke="#ff0000" d="M367.8 254.8h0M356.6 373.0h0M359.8 360.9h0"/><path stroke="#00ff00" d="M438.2 362.8h0M432.5 369.5h0"/><path stroke="#ff00ff" d="M327.0 223.9h0M317.1 242.7h0"/><path stroke="#ff0000" d="M442.1 361.6h0M281.2 384.5h0M383.8 380.8h0M288.0 378.3h0M357.7 360.9h0"/><path stroke="#ff00ff" d="M270.9 355.3h0"/><path stroke="#ff0000" d="M425.0 292.0h0M459.8 334.7h0M301.2 359.5h0M426.7 324.6h0"/><path stroke="#ff00ff" d="M359.6 379.1h0"/><path stroke="#00ff00" d="M337.5 369.5h0"/><path stroke="#ff0000" d="M424.4 289.0h0"/><path stroke="#0000ff" d="M365.8 324.0h0"/><path stroke="#ff0000" d="M469.0 383.6h0"/><path stroke="#00ff00" d="M446.9 390.1h0"/><path stroke="#0000ff" d="M366.0 326.8h0"/><path stroke="#ff0000" d="M461.0 338.9h0"/><path stroke="#00ff00" d="M313.8 326.1h0"/><path stroke="#ff00ff" d="M368.8 271.1h0"/><path stroke="#ff0000" d="M288.6 385.8h0"/><path stroke="#00ff00" d="M307.8 298.6h0M313.1 313.0h0"/><path stroke="#0000ff" d="M263.2 390.3h0"/><path stroke="#ff0000" d="M276.5 349.6h0M437.9 357.6h0M270.0 317.4h0M465.8 361.7h0"/><path stroke="#ff00ff" d="M388.1 321.8h0"/><path stroke="#ff0000" d="M263.3 378.0h0"/><path stroke="#0000ff" d="M291.2 390.8h0"/><path stroke="#ff0000" d="M312.9 232.8h0M289.7 361.2h0M308.0 220.7h0"/><path stroke="#0000ff" d="M316.1 334.8h0"/><path stroke="#ff0000" d="M325.1 199.1h0"/><path stroke="#00ff00" d="M259.8 355.5h0"/><path stroke="#ff0000" d="M327.5 343.6h0"/><path stroke="#0000ff" d="M360.3 335.3h0"/><path stroke="#00ff00" d="M310.6 271.4h0"/><path stroke="#0000ff" d="M460.3 381.1h0"/><path stroke="#ff00ff" d="M362.2 391.0h0"/><path stroke="#0000ff" d="M437.8 380.9h0"/><path stroke="#00ff00" d="M361.9 294.9h0"/><path stroke="#ff0000" d="M368.8 282.8h0"/><path stroke="#0000ff" d="M411.9 359.5h0"/><path stroke="#ff0000" d="M369.0 263.4h0M369.8 249.2h0"/><path stroke="#00ff00" d="M321.5 281.7h0"/><path stroke="#ff0000" d="M403.0 272.1h0M400.6 264.6h0"/><path stroke="#00ff00" d="M356.7 359.1h0"/><path stroke="#ff0000" d="M290.0 282.8h0"/><path stroke="#0000ff" d="M411.2 375.8h0"/><path stroke="#ff0000" d="M290.6 331.1h0M326.1 234.1h0M294.6 375.3h0M460.9 345.5h0M276.2 356.4h0M400.6 283.4h0"/><path stroke="#ff00ff" d="M305.0 293.6h0"/><path stroke="#ff0000" d="M359.5 358.7h0M448.4 350.6h0"/><path stroke="#00ff00" d="M386.3 308.7h0"/><path stroke="#ff0000" d="M430.0 372.3h0"/><path stroke="#ff00ff" d="M459.1 345.1h0M326.3 229.0h0"/><path stroke="#ff0000" d="M359.1 252.9h0M427.9 382.0h0M432.5 369.5h0"/><path stroke="#ff00ff" d="M364.1 258.7h0"/><path stroke="#ff0000" d="M325.6 205.4h0M329.3 211.9h0M368.2 248.8h0"/><path stroke="#ff00ff" d="M301.2 370.8h0"/><path stroke="#ff0000" d="M370.7 266.6h0M430.7 373.8h0"/><path stroke="#0000ff" d="M361.8 381.4h0"/><path stroke="#00ff00" d="M435.5 362.5h0"/><path stroke="#ff0000" d="M341.9 333.6h0M321.2 375.8h0M303.8 388.2h0M389.4 390.1h0"/><path stroke="#0000ff" d="M327.5 379.5h0"/><path stroke="#ff00ff" d="M317.5 240.3h0"/><path stroke="#00ff00" d="M433.8 377.9h0"/><path stroke="#ff00ff" d="M460.1 345.2h0"/><path stroke="#ff0000" d="M289.0 370.9h0"/><path stroke="#ff00ff" d="M270.0 363.2h0"/><path stroke="#00ff00" d="M275.0 390.8h0"/><path stroke="#ff0000" d="M423.0 300.7h0M462.8 342.9h0M363.8 254.9h0M295.9 387.3h0M312.5 251.4h0M266.0 277.4h0M456.0 338.5h0M311.9 259.0h0M304.8 229.9h0M254.1 377.4h0"/><path stroke="#ff00ff" d="M431.9 367.9h0"/><path stroke="#00ff00" d="M400.0 377.6h0"/><path stroke="#ff00ff" d="M400.6 358.2h0"/><path stroke="#ff0000" d="M448.1 333.6h0M413.3 300.1h0"/><path stroke="#ff00ff" d="M264.5 302.8h0"/><path stroke="#ff0000" d="M261.9 313.0h0"/><path stroke="#00ff00" d="M463.4 371.3h0"/><path stroke="#ff0000" d="M467.1 368.8h0M304.4 221.9h0"/><path stroke="#00ff00" d="M413.8 336.8h0"/><path stroke="#ff0000" d="M465.6 346.3h0"/><path stroke="#ff00ff" d="M261.3 350.4h0"/><path stroke="#00ff00" d="M358.8 295.5h0"/><path stroke="#ff0000" d="M328.1 306.1h0M324.3 236.2h0M327.9 218.6h0M266.1 377.6h0"/><path stroke="#00ff00" d="M254.2 390.7h0"/><path stroke="#ff00ff" d="M265.4 303.4h0M430.1 357.1h0"/><path stroke="#00ff00" d="M257.9 353.6h0"/><path stroke="#ff0000" d="M469.1 385.7h0"/><path stroke="#ff00ff" d="M311.6 232.4h0"/><path stroke="#ff0000" d="M465.9 346.9h0M467.6 367.9h0M289.4 318.0h0"/><path stroke="#0000ff" d="M359.8 344.9h0"/><path stroke="#ff0000" d="M292.5 352.0h0"/><path stroke="#0000ff" d="M314.3 340.8h0"/><path stroke="#ff0000" d="M313.1 237.6h0M354.6 365.3h0"/><path stroke="#00ff00" d="M313.4 273.4h0"/><path stroke="#ff0000" d="M448.1 336.5h0M369.4 289.0h0M360.5 390.2h0"/><path stroke="#0000ff" d="M385.8 358.1h0"/><path stroke="#ff0000" d="M300.6 389.5h0"/><path stroke="#0000ff" d="M326.3 321.2h0"/><path stroke="#ff0000" d="M303.8 342.4h0M265.9 385.8h0"/><path stroke="#00ff00" d="M267.3 336.9h0"/><path stroke="#ff0000" d="M455.2 342.3h0"/><path stroke="#ff00ff" d="M425.6 325.5h0"/><path stroke="#ff0000" d="M464.4 348.9h0"/><path stroke="#ff00ff" d="M275.6 337.4h0"/><path stroke="#ff0000" d="M261.0 345.3h0"/><path stroke="#ff00ff" d="M411.9 353.2h0M294.4 282.1h0"/><path stroke="#ff0000" d="M367.5 265.0h0M444.8 355.0h0M290.2 347.2h0M358.9 361.8h0"/><path stroke="#00ff00" d="M424.5 318.0h0"/><path stroke="#0000ff" d="M369.4 352.0h0M362.0 335.8h0"/><path stroke="#ff0000" d="M350.6 288.4h0M468.5 361.2h0M255.7 385.4h0M455.6 375.8h0"/><path stroke="#00ff00" d="M317.5 274.4h0"/><path stroke="#ff00ff" d="M464.6 361.3h0"/><path stroke="#00ff00" d="M386.8 317.2h0"/><path stroke="#ff0000" d="M400.6 270.2h0"/><path stroke="#0000ff" d="M428.8 362.0h0"/><path stroke="#ff00ff" d="M366.6 261.5h0"/><path stroke="#ff0000" d="M364.6 258.1h0"/><path stroke="#0000ff" d="M423.1 369.5h0"/><path stroke="#ff00ff" d="M331.1 225.1h0"/><path stroke="#00ff00" d="M257.6 372.6h0"/><path stroke="#ff0000" d="M287.2 363.5h0M336.9 390.3h0M269.4 391.6h0"/><path stroke="#0000ff" d="M388.1 378.2h0M305.2 350.3h0M313.7 350.7h0M386.5 352.5h0"/><path stroke="#ff0000" d="M322.8 223.8h0"/><path stroke="#ff00ff" d="M327.8 235.3h0"/><path stroke="#ff0000" d="M465.2 373.7h0M349.4 384.5h0"/><path stroke="#0000ff" d="M362.2 357.5h0"/><path stroke="#ff00ff" d="M338.1 334.2h0"/><path stroke="#0000ff" d="M334.7 389.2h0"/><path stroke="#ff00ff" d="M321.2 380.8h0"/><path stroke="#0000ff" d="M363.4 332.8h0"/><path stroke="#ff0000" d="M367.5 244.6h0M269.9 331.2h0M303.8 382.6h0M426.5 325.5h0"/><path stroke="#00ff00" d="M356.3 376.1h0"/><path stroke="#ff0000" d="M325.4 197.5h0"/><path stroke="#0000ff" d="M328.0 321.7h0"/><path stroke="#ff0000" d="M305.0 288.4h0"/><path stroke="#ff00ff" d="M316.9 319.2h0M270.0 355.8h0"/><path stroke="#00ff00" d="M325.8 287.6h0"/><path stroke="#0000ff" d="M365.0 326.1h0"/><path stroke="#ff0000" d="M415.6 344.2h0"/><path stroke="#0000ff" d="M441.0 382.9h0M346.9 367.6h0"/><path stroke="#ff0000" d="M275.8 368.0h0"/><path stroke="#0000ff" d="M361.5 336.8h0"/><path stroke="#ff00ff" d="M438.6 361.6h0"/><path stroke="#ff0000" d="M323.2 238.8h0M370.4 253.5h0"/><path stroke="#00ff00" d="M261.3 330.6h0"/><path stroke="#0000ff" d="M316.3 337.0h0"/><path stroke="#ff00ff" d="M440.1 364.2h0"/><path stroke="#00ff00" d="M351.0 366.4h0"/><path stroke="#ff0000" d="M367.6 253.9h0"/><path stroke="#0000ff" d="M290.0 376.9h0"/><path stroke="#ff0000" d="M465.6 359.3h0"/><path stroke="#0000ff" d="M384.3 349.8h0"/><path stroke="#ff0000" d="M273.4 372.7h0"/><path stroke="#ff00ff" d="M266.0 299.9h0"/><path stroke="#0000ff" d="M468.5 389.4h0M268.3 372.9h0"/><path stroke="#ff0000" d="M470.2 380.6h0M325.0 195.0h0"/><path stroke="#00ff00" d="M308.8 293.8h0"/><path stroke="#ff0000" d="M310.6 202.5h0M337.5 323.0h0M455.8 337.0h0M364.3 254.4h0"/><path stroke="#00ff00" d="M358.8 309.2h0"/><path stroke="#0000ff" d="M328.2 327.0h0"/><path stroke="#ff0000" d="M429.5 380.6h0"/><path stroke="#ff00ff" d="M365.3 263.3h0"/><path stroke="#00ff00" d="M355.6 330.5h0"/><path stroke="#ff0000" d="M351.2 282.8h0"/><path stroke="#0000ff" d="M290.4 384.5h0"/><path stroke="#ff00ff" d="M368.4 261.7h0"/><path stroke="#ff0000" d="M314.1 214.0h0"/><path stroke="#0000ff" d="M290.4 377.5h0"/><path stroke="#00ff00" d="M293.0 348.2h0"/><path stroke="#ff0000" d="M383.8 389.5h0M268.9 388.1h0M313.1 277.1h0"/><path stroke="#0000ff" d="M358.6 354.4h0"/><path stroke="#00ff00" d="M355.1 376.9h0"/><path stroke="#ff0000" d="M462.7 345.9h0M302.5 390.8h0M291.2 384.3h0M465.6 372.9h0M310.4 206.0h0"/><path stroke="#00ff00" d="M459.9 385.6h0M260.2 328.9h0M292.3 369.7h0"/><path stroke="#ff0000" d="M437.3 354.6h0"/><path stroke="#0000ff" d="M305.0 372.0h0"/><path stroke="#00ff00" d="M288.1 350.8h0"/><path stroke="#ff0000" d="M405.0 279.0h0M322.3 229.6h0"/><path stroke="#ff00ff" d="M270.6 334.2h0M263.8 326.1h0"/><path stroke="#ff0000" d="M342.5 353.9h0M360.0 247.8h0"/><path stroke="#ff00ff" d="M261.2 282.8h0"/><path stroke="#0000ff" d="M385.0 350.5h0"/><path stroke="#ff00ff" d="M313.3 255.1h0"/><path stroke="#0000ff" d="M460.6 379.6h0"/><path stroke="#00ff00" d="M303.8 363.2h0M263.8 369.5h0"/><path stroke="#0000ff" d="M264.6 378.1h0"/><path stroke="#ff0000" d="M414.7 355.1h0"/><path stroke="#00ff00" d="M321.2 384.5h0"/><path stroke="#ff0000" d="M437.7 348.5h0M280.6 365.8h0M335.2 387.9h0M291.2 270.9h0"/><path stroke="#0000ff" d="M324.6 323.6h0"/><path stroke="#ff00ff" d="M265.2 346.5h0"/><path stroke="#00ff00" d="M455.7 360.9h0"/><path stroke="#ff0000" d="M468.8 358.2h0"/><path stroke="#ff00ff" d="M384.4 348.2h0"/><path stroke="#0000ff" d="M465.7 383.0h0"/><path stroke="#ff0000" d="M307.5 220.2h0"/><path stroke="#0000ff" d="M308.6 348.1h0M293.7 379.2h0"/><path stroke="#ff00ff" d="M352.5 323.0h0"/><path stroke="#ff0000" d="M468.4 367.2h0"/><path stroke="#0000ff" d="M264.7 380.4h0"/><path stroke="#ff0000" d="M352.5 311.8h0M267.5 391.0h0M467.7 367.3h0M318.1 390.1h0"/><path stroke="#00ff00" d="M290.4 340.6h0"/><path stroke="#0000ff" d="M400.0 383.9h0"/><path stroke="#ff00ff" d="M263.9 295.1h0"/><path stroke="#ff0000" d="M442.4 363.1h0"/><path stroke="#0000ff" d="M306.7 344.0h0"/><path stroke="#ff0000" d="M317.5 373.2h0M442.5 390.8h0"/><path stroke="#0000ff" d="M266.7 377.7h0"/><path stroke="#ff0000" d="M369.8 269.2h0"/><path stroke="#00ff00" d="M342.5 371.4h0M403.1 295.5h0"/><path stroke="#ff0000" d="M353.1 356.1h0"/><path stroke="#ff00ff" d="M312.5 265.1h0"/><path stroke="#0000ff" d="M436.1 382.4h0"/><path stroke="#ff0000" d="M437.5 377.0h0M415.0 346.8h0"/><path stroke="#0000ff" d="M263.9 379.6h0"/><path stroke="#ff00ff" d="M375.0 302.4h0"/><path stroke="#0000ff" d="M305.6 350.2h0"/><path stroke="#ff00ff" d="M400.0 379.5h0"/><path stroke="#00ff00" d="M263.1 366.1h0M317.5 365.1h0"/><path stroke="#ff0000" d="M468.4 364.3h0M266.6 284.8h0M437.3 353.8h0"/><path stroke="#00ff00" d="M369.4 321.1h0"/><path stroke="#0000ff" d="M457.3 373.3h0"/><path stroke="#00ff00" d="M304.4 349.5h0"/><path stroke="#ff0000" d="M329.7 206.2h0M435.4 340.8h0M461.1 357.6h0M461.6 345.2h0"/><path stroke="#00ff00" d="M404.4 299.2h0"/><path stroke="#0000ff" d="M439.3 380.9h0"/><path stroke="#ff00ff" d="M310.2 237.9h0"/><path stroke="#0000ff" d="M378.8 382.6h0M368.8 335.0h0"/><path stroke="#ff0000" d="M448.1 339.5h0M256.6 358.7h0"/><path stroke="#ff00ff" d="M460.3 361.7h0M302.5 375.8h0"/><path stroke="#ff0000" d="M375.0 335.5h0"/><path stroke="#0000ff" d="M291.2 380.8h0"/><path stroke="#00ff00" d="M266.2 357.0h0"/><path stroke="#ff0000" d="M256.2 327.4h0M337.5 330.5h0"/><path stroke="#00ff00" d="M314.1 283.7h0"/><path stroke="#ff0000" d="M363.1 253.3h0M416.2 357.1h0M324.0 205.2h0"/><path stroke="#ff00ff" d="M270.9 331.7h0"/><path stroke="#ff0000" d="M320.6 390.8h0"/><path stroke="#00ff00" d="M304.8 301.0h0"/><path stroke="#ff0000" d="M330.0 259.6h0"/><path stroke="#00ff00" d="M287.6 366.9h0"/><path stroke="#ff0000" d="M366.2 269.7h0"/><path stroke="#00ff00" d="M316.4 275.3h0"/><path stroke="#ff0000" d="M462.7 339.8h0M310.1 214.3h0M401.2 238.1h0M308.8 337.4h0M412.6 315.7h0"/><path stroke="#0000ff" d="M401.9 321.1h0"/><path stroke="#00ff00" d="M323.6 266.2h0"/><path stroke="#0000ff" d="M359.6 346.0h0"/><path stroke="#ff0000" d="M269.3 381.3h0"/><path stroke="#00ff00" d="M262.0 335.2h0"/><path stroke="#ff00ff" d="M352.0 364.7h0"/><path stroke="#0000ff" d="M310.1 342.2h0"/><path stroke="#ff00ff" d="M369.7 271.3h0"/><path stroke="#ff0000" d="M471.4 383.9h0"/><path stroke="#0000ff" d="M435.0 378.7h0"/><path stroke="#ff0000" d="M274.3 380.4h0"/><path stroke="#00ff00" d="M405.6 315.5h0"/><path stroke="#ff0000" d="M360.0 298.0h0M465.9 361.1h0M328.9 209.1h0"/><path stroke="#00ff00" d="M361.0 360.3h0"/><path stroke="#ff0000" d="M337.6 382.4h0M414.1 318.8h0"/><path stroke="#ff00ff" d="M261.8 364.6h0"/><path stroke="#0000ff" d="M275.6 389.5h0"/><path stroke="#ff0000" d="M370.9 266.0h0M468.6 374.6h0M301.9 380.1h0"/><path stroke="#0000ff" d="M334.8 388.4h0"/><path stroke="#ff00ff" d="M352.1 373.0h0M417.5 364.5h0"/><path stroke="#ff0000" d="M361.2 362.4h0"/><path stroke="#ff00ff" d="M351.0 305.5h0M309.8 242.3h0"/><path stroke="#ff0000" d="M469.5 364.0h0M353.3 373.9h0"/><path stroke="#00ff00" d="M415.0 354.5h0"/><path stroke="#0000ff" d="M314.4 334.6h0"/><path stroke="#ff0000" d="M335.3 381.7h0M413.2 360.2h0"/><path stroke="#ff00ff" d="M385.0 308.0h0"/><path stroke="#ff0000" d="M460.5 359.0h0"/><path stroke="#0000ff" d="M360.6 334.2h0M257.1 386.5h0M308.5 354.0h0M436.3 376.2h0"/><path stroke="#ff0000" d="M264.3 291.0h0"/><path stroke="#ff00ff" d="M380.0 336.8h0"/><path stroke="#ff0000" d="M425.7 307.2h0M350.1 366.0h0M403.8 260.9h0"/><path stroke="#0000ff" d="M321.2 353.9h0"/><path stroke="#ff00ff" d="M275.6 323.0h0"/><path stroke="#00ff00" d="M330.0 343.0h0"/><path stroke="#0000ff" d="M305.0 380.8h0"/><path stroke="#ff0000" d="M448.1 342.4h0M459.2 344.5h0"/><path stroke="#00ff00" d="M342.5 319.9h0"/><path stroke="#ff0000" d="M425.6 282.0h0M292.8 342.7h0M388.8 372.0h0"/><path stroke="#00ff00" d="M349.4 321.8h0"/><path stroke="#ff0000" d="M469.3 373.8h0"/><path stroke="#00ff00" d="M305.2 291.7h0"/><path stroke="#ff00ff" d="M405.0 276.5h0"/><path stroke="#ff0000" d="M346.2 382.0h0"/><path stroke="#ff00ff" d="M327.5 309.2h0"/><path stroke="#ff0000" d="M472.1 383.7h0M361.0 262.1h0"/><path stroke="#0000ff" d="M402.5 345.5h0"/><path stroke="#ff0000" d="M290.0 298.6h0"/><path stroke="#00ff00" d="M411.9 365.8h0"/><path stroke="#ff0000" d="M437.1 362.4h0M405.0 262.1h0M289.0 374.3h0M366.0 255.9h0M294.4 336.1h0"/><path stroke="#ff00ff" d="M268.7 331.7h0"/><path stroke="#ff0000" d="M401.2 248.4h0"/><path stroke="#00ff00" d="M360.1 349.6h0"/><path stroke="#0000ff" d="M402.5 335.5h0"/><path stroke="#ff0000" d="M275.4 390.8h0"/><path stroke="#0000ff" d="M310.0 355.9h0"/><path stroke="#ff0000" d="M425.0 279.6h0"/><path stroke="#0000ff" d="M260.0 381.1h0"/><path stroke="#ff00ff" d="M260.6 313.0h0M385.0 310.5h0"/><path stroke="#ff0000" d="M263.1 299.9h0M466.5 381.5h0M328.1 203.8h0"/><path stroke="#ff00ff" d="M357.5 300.5h0M356.9 341.1h0"/><path stroke="#ff0000" d="M308.1 267.1h0M462.2 344.5h0M269.8 354.3h0"/><path stroke="#0000ff" d="M289.7 374.7h0"/><path stroke="#ff0000" d="M423.8 346.8h0M351.2 269.0h0M441.4 355.4h0M307.7 238.1h0M290.0 293.6h0M263.8 265.9h0"/><path stroke="#0000ff" d="M308.6 345.9h0"/><path stroke="#00ff00" d="M259.1 383.2h0"/><path stroke="#ff0000" d="M429.2 367.3h0"/><path stroke="#00ff00" d="M363.1 288.4h0"/><path stroke="#ff0000" d="M259.0 350.3h0M288.5 390.2h0M369.7 246.8h0"/><path stroke="#0000ff" d="M310.4 339.0h0"/><path stroke="#ff00ff" d="M271.1 339.3h0"/><path stroke="#ff0000" d="M270.0 343.0h0M356.2 336.8h0M277.5 356.8h0M446.2 376.2h0"/><path stroke="#0000ff" d="M266.3 374.6h0"/><path stroke="#ff0000" d="M375.0 291.5h0"/><path stroke="#0000ff" d="M261.3 375.6h0M335.6 364.5h0"/><path stroke="#ff0000" d="M422.5 387.6h0M434.5 362.8h0M356.2 328.0h0M294.0 386.0h0M287.7 371.4h0"/><path stroke="#00ff00" d="M291.2 325.5h0"/><path stroke="#ff0000" d="M291.2 268.4h0M457.5 333.4h0"/><path stroke="#00ff00" d="M378.8 352.6h0"/><path stroke="#ff00ff" d="M275.0 378.2h0"/><path stroke="#00ff00" d="M316.4 270.3h0"/><path stroke="#0000ff" d="M311.9 373.2h0M261.1 374.7h0"/><path stroke="#ff00ff" d="M291.2 380.8h0"/><path stroke="#ff0000" d="M448.1 338.0h0M386.7 277.9h0M327.3 206.1h0"/><path stroke="#0000ff" d="M440.5 384.5h0"/><path stroke="#ff0000" d="M455.5 340.7h0M266.2 272.1h0M357.5 291.5h0"/><path stroke="#ff00ff" d="M273.8 384.5h0"/><path stroke="#00ff00" d="M359.6 371.7h0M351.2 309.2h0"/><path stroke="#ff00ff" d="M425.6 290.2h0"/><path stroke="#ff0000" d="M387.5 275.2h0M325.2 196.2h0M327.6 204.4h0"/><path stroke="#ff00ff" d="M312.9 245.5h0"/><path stroke="#0000ff" d="M459.5 376.4h0"/><path stroke="#00ff00" d="M401.2 334.2h0M260.3 346.5h0"/><path stroke="#ff0000" d="M352.3 366.7h0M266.9 306.1h0"/><path stroke="#ff00ff" d="M403.8 274.6h0"/><path stroke="#ff0000" d="M387.5 287.8h0"/><path stroke="#00ff00" d="M370.0 311.8h0"/><path stroke="#ff0000" d="M321.6 222.3h0M265.6 267.8h0"/><path stroke="#ff00ff" d="M447.5 357.0h0"/><path stroke="#00ff00" d="M401.3 279.9h0"/><path stroke="#ff0000" d="M316.9 302.4h0M259.8 287.1h0M371.1 266.1h0"/><path stroke="#ff00ff" d="M387.5 364.5h0"/><path stroke="#0000ff" d="M266.0 381.5h0"/><path stroke="#ff00ff" d="M308.1 244.8h0"/><path stroke="#0000ff" d="M358.3 342.6h0"/><path stroke="#ff0000" d="M261.5 253.4h0M261.9 251.5h0M334.1 386.0h0M359.0 260.9h0"/><path stroke="#00ff00" d="M461.9 359.3h0"/><path stroke="#0000ff" d="M264.2 374.4h0"/><path stroke="#00ff00" d="M359.4 315.5h0"/><path stroke="#0000ff" d="M330.0 344.2h0"/><path stroke="#ff00ff" d="M316.5 232.4h0"/><path stroke="#00ff00" d="M327.1 258.3h0"/><path stroke="#ff0000" d="M265.0 265.2h0"/><path stroke="#0000ff" d="M360.0 336.3h0"/><path stroke="#00ff00" d="M362.1 352.2h0"/><path stroke="#ff0000" d="M306.3 221.2h0"/><path stroke="#0000ff" d="M261.8 378.9h0"/><path stroke="#ff0000" d="M310.2 224.3h0"/><path stroke="#0000ff" d="M442.4 378.6h0"/><path stroke="#ff0000" d="M469.2 378.5h0"/><path stroke="#0000ff" d="M361.9 332.2h0M385.0 341.0h0"/><path stroke="#ff0000" d="M464.2 363.7h0"/><path stroke="#0000ff" d="M360.0 343.9h0"/><path stroke="#00ff00" d="M355.2 388.8h0"/><path stroke="#ff0000" d="M334.7 378.2h0M467.2 373.2h0M467.2 385.7h0M465.4 350.1h0M471.9 383.6h0"/><path stroke="#0000ff" d="M327.9 323.6h0"/><path stroke="#ff0000" d="M393.1 371.4h0M415.4 320.8h0M455.6 368.5h0"/><path stroke="#00ff00" d="M325.4 278.4h0"/><path stroke="#ff00ff" d="M327.5 230.7h0"/><path stroke="#ff0000" d="M314.1 224.8h0M379.4 308.6h0"/><path stroke="#0000ff" d="M256.3 385.5h0"/><path stroke="#ff0000" d="M328.1 256.5h0M294.0 378.9h0M350.5 361.3h0"/><path stroke="#0000ff" d="M400.0 342.4h0"/><path stroke="#ff0000" d="M468.8 374.5h0M292.9 376.8h0M434.5 343.6h0M287.0 373.7h0M459.5 340.1h0"/><path stroke="#ff00ff" d="M430.0 377.6h0"/><path stroke="#ff0000" d="M466.3 364.3h0M430.9 387.3h0M435.8 351.4h0M414.6 329.6h0M346.1 390.2h0"/><path stroke="#00ff00" d="M310.5 275.9h0"/><path stroke="#0000ff" d="M337.5 378.2h0"/><path stroke="#00ff00" d="M385.2 320.9h0"/><path stroke="#ff00ff" d="M351.9 290.2h0"/><path stroke="#ff0000" d="M349.4 264.0h0"/><path stroke="#00ff00" d="M385.4 332.7h0"/><path stroke="#ff0000" d="M425.0 291.5h0"/><path stroke="#0000ff" d="M340.0 372.6h0M263.3 381.0h0"/><path stroke="#ff0000" d="M366.0 243.8h0"/><path stroke="#00ff00" d="M365.3 286.6h0"/><path stroke="#ff0000" d="M469.4 377.5h0"/><path stroke="#ff00ff" d="M422.5 350.1h0"/><path stroke="#00ff00" d="M386.0 303.0h0"/><path stroke="#ff0000" d="M316.9 239.6h0"/><path stroke="#0000ff" d="M260.8 384.6h0"/><path stroke="#00ff00" d="M366.4 280.7h0"/><path stroke="#ff0000" d="M426.5 325.1h0"/><path stroke="#0000ff" d="M437.3 380.4h0"/><path stroke="#ff0000" d="M353.2 379.1h0"/><path stroke="#0000ff" d="M364.6 327.2h0"/><path stroke="#ff0000" d="M431.6 349.0h0M448.1 335.0h0"/><path stroke="#00ff00" d="M457.5 367.9h0"/><path stroke="#0000ff" d="M303.8 369.5h0"/><path stroke="#ff00ff" d="M374.4 343.0h0"/><path stroke="#ff0000" d="M304.4 273.4h0"/><path stroke="#ff00ff" d="M446.9 387.0h0"/><path stroke="#00ff00" d="M433.4 369.4h0"/><path stroke="#ff0000" d="M255.5 365.6h0M317.5 344.2h0"/><path stroke="#ff00ff" d="M401.2 277.1h0"/><path stroke="#00ff00" d="M327.7 261.8h0"/><path stroke="#ff0000" d="M463.7 358.3h0"/><path stroke="#0000ff" d="M350.8 361.0h0"/><path stroke="#ff0000" d="M466.6 351.6h0M309.4 221.1h0"/><path stroke="#00ff00" d="M313.4 269.7h0"/><path stroke="#ff0000" d="M447.1 387.3h0"/><path stroke="#00ff00" d="M306.8 293.3h0"/><path stroke="#ff0000" d="M402.5 257.8h0"/><path stroke="#ff00ff" d="M359.7 379.3h0"/><path stroke="#ff0000" d="M338.1 318.6h0"/><path stroke="#00ff00" d="M305.0 338.0h0"/><path stroke="#ff0000" d="M455.9 340.8h0M459.1 346.8h0"/><path stroke="#00ff00" d="M366.4 287.7h0"/><path stroke="#ff00ff" d="M304.8 240.0h0"/><path stroke="#ff0000" d="M439.8 356.4h0M386.9 279.0h0M263.8 282.7h0"/><path stroke="#00ff00" d="M365.4 287.5h0"/><path stroke="#ff0000" d="M456.0 331.0h0M257.1 361.1h0M440.2 357.2h0"/><path stroke="#00ff00" d="M257.2 387.7h0M430.2 372.7h0"/><path stroke="#ff0000" d="M317.5 316.1h0"/><path stroke="#00ff00" d="M307.8 270.4h0"/><path stroke="#ff0000" d="M306.1 238.3h0"/><path stroke="#00ff00" d="M328.9 274.6h0"/><path stroke="#ff0000" d="M411.3 303.5h0"/><path stroke="#00ff00" d="M316.6 268.1h0M369.4 295.5h0M433.8 365.8h0"/><path stroke="#ff0000" d="M341.9 292.1h0M364.2 247.7h0M470.0 388.5h0"/><path stroke="#ff00ff" d="M290.0 358.2h0"/><path stroke="#0000ff" d="M361.1 338.8h0M367.2 323.6h0"/><path stroke="#ff0000" d="M368.0 248.1h0"/><path stroke="#ff00ff" d="M303.6 243.5h0"/><path stroke="#ff0000" d="M261.9 247.8h0"/><path stroke="#ff00ff" d="M350.0 358.8h0"/><path stroke="#0000ff" d="M265.9 382.9h0"/><path stroke="#ff0000" d="M468.7 365.7h0"/><path stroke="#00ff00" d="M320.9 278.1h0"/><path stroke="#ff0000" d="M403.9 270.7h0M293.8 363.2h0M323.0 230.0h0"/><path stroke="#0000ff" d="M361.0 355.8h0"/><path stroke="#ff0000" d="M263.8 344.2h0"/><path stroke="#00ff00" d="M354.3 383.1h0"/><path stroke="#0000ff" d="M364.2 328.2h0"/><path stroke="#ff00ff" d="M338.8 345.5h0"/><path stroke="#ff0000" d="M272.5 352.0h0M336.4 378.5h0"/><path stroke="#ff00ff" d="M406.9 334.2h0"/><path stroke="#00ff00" d="M386.9 330.5h0"/><path stroke="#ff00ff" d="M456.2 344.4h0"/><path stroke="#0000ff" d="M310.6 344.2h0"/><path stroke="#00ff00" d="M462.5 359.5h0"/><path stroke="#0000ff" d="M259.9 391.5h0M289.8 367.8h0"/><path stroke="#ff0000" d="M306.8 249.3h0M263.8 313.6h0M328.9 209.5h0M369.8 265.7h0"/><path stroke="#00ff00" d="M458.0 357.0h0"/><path stroke="#ff0000" d="M312.2 227.4h0"/><path stroke="#ff00ff" d="M317.5 352.0h0M312.9 243.7h0"/><path stroke="#00ff00" d="M313.7 268.4h0"/><path stroke="#ff0000" d="M325.4 213.1h0"/><path stroke="#00ff00" d="M366.0 284.8h0"/><path stroke="#ff0000" d="M411.5 309.8h0M334.9 385.4h0M386.9 285.2h0"/><path stroke="#ff00ff" d="M327.3 220.4h0"/><path stroke="#ff0000" d="M448.1 355.0h0"/><path stroke="#0000ff" d="M427.5 368.2h0"/><path stroke="#ff0000" d="M339.9 382.7h0M411.8 315.7h0M457.2 337.1h0"/><path stroke="#ff00ff" d="M269.1 293.1h0"/><path stroke="#0000ff" d="M259.0 384.6h0"/><path stroke="#00ff00" d="M311.1 269.5h0"/><path stroke="#ff0000" d="M458.2 339.2h0"/><path stroke="#0000ff" d="M437.5 377.9h0"/><path stroke="#00ff00" d="M314.8 291.3h0"/><path stroke="#0000ff" d="M357.5 346.8h0M273.1 383.9h0"/><path stroke="#ff0000" d="M459.2 336.5h0M414.7 362.6h0"/><path stroke="#00ff00" d="M388.0 328.5h0"/><path stroke="#ff0000" d="M430.0 358.3h0"/><path stroke="#0000ff" d="M385.7 347.0h0"/><path stroke="#ff0000" d="M368.4 271.0h0"/><path stroke="#0000ff" d="M403.8 337.4h0"/><path stroke="#ff0000" d="M368.9 252.6h0"/><path stroke="#0000ff" d="M370.6 355.8h0M274.1 389.6h0"/><path stroke="#ff00ff" d="M370.0 284.0h0"/><path stroke="#00ff00" d="M455.8 363.9h0"/><path stroke="#ff0000" d="M310.6 200.6h0M379.4 314.9h0"/><path stroke="#ff00ff" d="M374.4 348.2h0"/><path stroke="#00ff00" d="M330.0 295.5h0"/><path stroke="#0000ff" d="M448.3 375.4h0"/><path stroke="#ff0000" d="M401.5 242.1h0M432.3 353.0h0"/><path stroke="#0000ff" d="M324.2 334.5h0"/><path stroke="#ff0000" d="M295.0 319.9h0M317.5 383.2h0"/><path stroke="#0000ff" d="M406.9 370.1h0"/><path stroke="#ff00ff" d="M401.5 256.0h0"/><path stroke="#0000ff" d="M393.1 382.6h0"/><path stroke="#ff0000" d="M361.2 385.6h0"/><path stroke="#0000ff" d="M331.9 377.0h0"/><path stroke="#00ff00" d="M460.2 358.5h0"/><path stroke="#0000ff" d="M328.4 325.4h0"/><path stroke="#00ff00" d="M368.4 284.4h0M316.2 363.2h0"/><path stroke="#ff0000" d="M323.9 211.4h0"/><path stroke="#0000ff" d="M307.5 354.2h0"/><path stroke="#ff0000" d="M359.9 356.9h0M469.6 383.3h0"/><path stroke="#00ff00" d="M401.2 280.2h0"/><path stroke="#ff00ff" d="M446.6 369.8h0"/><path stroke="#ff0000" d="M271.0 378.1h0"/><path stroke="#ff00ff" d="M262.6 371.5h0"/><path stroke="#0000ff" d="M462.4 379.0h0"/><path stroke="#ff0000" d="M400.0 293.6h0"/><path stroke="#0000ff" d="M269.1 383.8h0"/><path stroke="#ff0000" d="M405.6 375.1h0M459.6 339.1h0M362.9 263.9h0M289.4 326.8h0M287.1 384.8h0"/><path stroke="#ff00ff" d="M317.3 233.6h0"/><path stroke="#ff0000" d="M414.0 385.9h0"/><path stroke="#0000ff" d="M468.5 389.2h0"/><path stroke="#00ff00" d="M310.4 306.9h0"/><path stroke="#ff0000" d="M462.3 346.1h0"/><path stroke="#ff00ff" d="M308.3 264.7h0"/><path stroke="#ff0000" d="M386.0 320.2h0M414.9 368.2h0"/><path stroke="#ff00ff" d="M310.2 228.3h0"/><path stroke="#ff0000" d="M306.8 217.1h0"/><path stroke="#ff00ff" d="M266.5 306.7h0"/><path stroke="#ff0000" d="M357.4 373.2h0"/><path stroke="#0000ff" d="M267.0 374.9h0"/><path stroke="#ff0000" d="M315.5 225.9h0M261.9 350.7h0M385.6 287.8h0M369.7 265.8h0"/><path stroke="#00ff00" d="M387.4 322.8h0"/><path stroke="#0000ff" d="M272.5 390.1h0M307.2 351.5h0"/><path stroke="#ff00ff" d="M321.9 251.5h0"/><path stroke="#ff0000" d="M287.5 363.3h0"/><path stroke="#0000ff" d="M361.3 337.8h0"/><path stroke="#ff0000" d="M264.1 369.1h0"/><path stroke="#0000ff" d="M367.5 324.9h0"/><path stroke="#ff0000" d="M423.6 294.3h0"/><path stroke="#00ff00" d="M447.9 365.1h0M368.8 306.1h0"/><path stroke="#ff0000" d="M369.8 261.4h0"/><path stroke="#ff00ff" d="M266.2 304.2h0"/><path stroke="#00ff00" d="M263.6 345.9h0"/><path stroke="#0000ff" d="M401.6 323.3h0"/><path stroke="#ff00ff" d="M312.3 264.8h0"/><path stroke="#00ff00" d="M467.5 384.7h0"/><path stroke="#0000ff" d="M363.8 329.2h0"/><path stroke="#ff0000" d="M405.4 265.7h0"/><path stroke="#ff00ff" d="M370.6 373.9h0"/><path stroke="#ff0000" d="M261.2 258.4h0"/><path stroke="#ff00ff" d="M368.2 262.5h0"/><path stroke="#0000ff" d="M436.6 384.4h0"/><path stroke="#00ff00" d="M288.7 353.3h0"/><path stroke="#ff0000" d="M385.3 299.5h0"/><path stroke="#0000ff" d="M438.2 385.7h0"/><path stroke="#ff00ff" d="M275.6 319.9h0"/><path stroke="#ff0000" d="M425.4 279.8h0M275.8 373.9h0"/><path stroke="#00ff00" d="M422.5 375.8h0"/><path stroke="#ff00ff" d="M324.4 244.1h0"/><path stroke="#ff0000" d="M324.3 235.5h0"/><path stroke="#ff00ff" d="M266.2 291.5h0"/><path stroke="#ff0000" d="M274.5 383.7h0"/><path stroke="#ff00ff" d="M359.6 353.9h0"/><path stroke="#ff0000" d="M428.8 337.4h0M434.3 370.2h0"/><path stroke="#00ff00" d="M309.8 309.0h0"/><path stroke="#ff0000" d="M362.4 376.8h0M316.0 223.6h0M276.0 354.8h0"/><path stroke="#ff00ff" d="M338.8 358.2h0"/><path stroke="#00ff00" d="M358.1 333.0h0"/><path stroke="#ff0000" d="M444.7 358.7h0"/><path stroke="#00ff00" d="M331.9 373.2h0"/><path stroke="#ff00ff" d="M290.0 319.9h0"/><path stroke="#ff0000" d="M317.5 379.5h0M413.2 352.8h0"/><path stroke="#00ff00" d="M328.1 277.7h0"/><path stroke="#ff0000" d="M266.3 388.7h0M422.5 359.5h0"/><path stroke="#0000ff" d="M440.2 382.9h0M386.4 347.8h0M354.9 346.7h0"/><path stroke="#ff0000" d="M444.5 359.6h0"/><path stroke="#0000ff" d="M312.2 344.1h0"/><path stroke="#ff0000" d="M321.8 221.9h0"/><path stroke="#ff00ff" d="M325.1 230.1h0M337.5 337.4h0"/><path stroke="#0000ff" d="M260.9 376.9h0"/><path stroke="#00ff00" d="M366.1 281.2h0M387.7 312.4h0"/><path stroke="#ff0000" d="M439.2 350.6h0M343.2 383.2h0M313.1 262.8h0"/><path stroke="#00ff00" d="M287.8 350.5h0"/><path stroke="#0000ff" d="M442.9 385.8h0"/><path stroke="#ff0000" d="M342.5 338.0h0M269.8 386.4h0"/><path stroke="#ff00ff" d="M360.0 273.4h0"/><path stroke="#ff0000" d="M468.5 368.7h0M324.6 228.7h0"/><path stroke="#00ff00" d="M294.4 324.2h0"/><path stroke="#ff0000" d="M263.2 384.2h0"/><path stroke="#ff00ff" d="M314.6 232.5h0"/><path stroke="#ff0000" d="M338.1 326.8h0M292.5 342.1h0"/><path stroke="#00ff00" d="M386.5 311.5h0"/><path stroke="#ff0000" d="M324.0 232.0h0M322.0 223.7h0M466.4 356.5h0M369.4 276.0h0"/><path stroke="#ff00ff" d="M304.4 307.4h0"/><path stroke="#ff0000" d="M448.1 341.0h0"/><path stroke="#0000ff" d="M357.9 344.7h0"/><path stroke="#ff0000" d="M290.0 377.8h0"/><path stroke="#ff00ff" d="M353.1 324.2h0"/><path stroke="#0000ff" d="M326.0 325.4h0M315.9 338.7h0"/><path stroke="#ff0000" d="M367.8 243.3h0"/><path stroke="#0000ff" d="M306.5 348.1h0"/><path stroke="#00ff00" d="M401.6 287.0h0"/><path stroke="#ff0000" d="M261.5 342.9h0M368.9 253.3h0"/><path stroke="#00ff00" d="M350.7 362.6h0"/><path stroke="#0000ff" d="M387.5 357.5h0M273.0 386.7h0"/><path stroke="#ff00ff" d="M365.6 275.1h0"/><path stroke="#00ff00" d="M412.5 334.9h0"/><path stroke="#ff0000" d="M462.7 350.7h0M469.6 368.3h0M417.5 379.1h0"/><path stroke="#ff00ff" d="M328.1 295.5h0"/><path stroke="#0000ff" d="M360.2 385.2h0"/><path stroke="#ff0000" d="M439.1 346.7h0M430.7 356.7h0"/><path stroke="#00ff00" d="M254.1 377.1h0"/><path stroke="#ff00ff" d="M342.5 309.2h0"/><path stroke="#00ff00" d="M294.0 337.4h0"/><path stroke="#0000ff" d="M400.6 353.9h0"/><path stroke="#ff0000" d="M383.8 385.8h0"/><path stroke="#0000ff" d="M357.7 345.7h0"/><path stroke="#ff0000" d="M348.8 379.5h0"/><path stroke="#00ff00" d="M328.4 273.2h0"/><path stroke="#ff0000" d="M388.8 310.5h0M272.0 388.9h0M316.2 285.9h0M364.1 258.0h0"/><path stroke="#00ff00" d="M292.3 358.3h0"/><path stroke="#0000ff" d="M365.6 327.8h0"/><path stroke="#ff0000" d="M402.1 249.0h0M276.2 370.8h0M311.2 390.1h0"/><path stroke="#ff00ff" d="M327.5 360.1h0M412.5 315.5h0"/><path stroke="#ff0000" d="M294.0 351.5h0"/><path stroke="#0000ff" d="M333.9 382.7h0"/><path stroke="#ff0000" d="M273.1 381.6h0M455.6 386.5h0M441.9 390.3h0"/><path stroke="#ff00ff" d="M326.0 246.6h0"/><path stroke="#0000ff" d="M311.7 352.5h0"/><path stroke="#00ff00" d="M387.3 322.8h0"/><path stroke="#ff00ff" d="M460.6 345.5h0"/><path stroke="#ff0000" d="M440.2 364.8h0M468.1 378.4h0"/><path stroke="#00ff00" d="M438.5 369.0h0"/><path stroke="#ff00ff" d="M327.5 231.0h0"/><path stroke="#00ff00" d="M456.2 365.1h0M393.1 376.4h0M354.4 376.2h0"/><path stroke="#0000ff" d="M308.1 342.4h0M384.4 367.0h0"/><path stroke="#ff0000" d="M455.8 329.6h0"/><path stroke="#00ff00" d="M270.9 360.4h0"/><path stroke="#ff0000" d="M466.8 367.3h0"/><path stroke="#00ff00" d="M328.1 338.0h0"/><path stroke="#ff00ff" d="M272.5 324.2h0"/><path stroke="#0000ff" d="M296.9 390.8h0"/><path stroke="#00ff00" d="M363.5 285.9h0"/><path stroke="#ff00ff" d="M330.9 230.0h0"/><path stroke="#ff0000" d="M270.6 349.5h0"/><path stroke="#00ff00" d="M266.9 351.1h0"/><path stroke="#ff0000" d="M370.0 329.2h0M402.5 274.0h0"/><path stroke="#0000ff" d="M261.9 390.1h0"/><path stroke="#ff0000" d="M467.5 372.1h0"/><path stroke="#0000ff" d="M315.0 362.6h0"/><path stroke="#00ff00" d="M306.5 294.6h0"/><path stroke="#ff0000" d="M367.7 253.7h0M357.5 344.9h0M262.6 365.6h0M270.6 328.6h0M468.3 374.2h0"/><path stroke="#ff00ff" d="M315.6 244.1h0M387.5 299.2h0"/><path stroke="#00ff00" d="M289.4 333.0h0"/><path stroke="#ff0000" d="M365.0 244.0h0"/><path stroke="#0000ff" d="M326.5 326.7h0"/><path stroke="#ff0000" d="M324.4 238.2h0"/><path stroke="#ff00ff" d="M302.9 261.2h0"/><path stroke="#00ff00" d="M329.8 282.1h0"/><path stroke="#0000ff" d="M423.1 348.2h0"/><path stroke="#ff0000" d="M350.5 347.5h0M432.8 344.9h0M466.8 352.9h0M386.0 298.0h0"/><path stroke="#00ff00" d="M446.2 383.9h0"/><path stroke="#ff0000" d="M414.3 313.5h0"/><path stroke="#ff00ff" d="M352.9 349.9h0M306.7 242.6h0"/><path stroke="#ff0000" d="M384.3 314.7h0"/><path stroke="#ff00ff" d="M368.9 271.9h0"/><path stroke="#ff0000" d="M256.3 384.1h0M271.6 385.7h0M358.1 280.2h0"/><path stroke="#00ff00" d="M310.4 274.6h0"/><path stroke="#ff0000" d="M314.7 233.0h0M414.4 341.1h0"/><path stroke="#0000ff" d="M464.7 382.6h0"/><path stroke="#ff00ff" d="M400.9 251.2h0"/><path stroke="#ff0000" d="M459.2 346.4h0"/><path stroke="#ff00ff" d="M256.2 326.8h0"/><path stroke="#00ff00" d="M317.9 277.6h0"/><path stroke="#ff0000" d="M436.2 369.5h0"/><path stroke="#0000ff" d="M272.5 388.7h0"/><path stroke="#ff00ff" d="M321.9 272.1h0M367.6 259.6h0"/><path stroke="#00ff00" d="M307.9 310.7h0"/><path stroke="#0000ff" d="M464.2 385.6h0"/><path stroke="#ff0000" d="M459.0 346.7h0"/><path stroke="#ff00ff" d="M307.6 239.6h0"/><path stroke="#ff0000" d="M329.4 207.5h0"/><path stroke="#0000ff" d="M345.2 385.1h0"/><path stroke="#ff0000" d="M360.4 378.6h0M360.5 362.8h0M457.9 346.4h0"/><path stroke="#0000ff" d="M441.9 382.5h0"/><path stroke="#ff0000" d="M467.8 375.2h0"/><path stroke="#ff00ff" d="M315.4 245.4h0"/><path stroke="#ff0000" d="M464.9 359.7h0"/><path stroke="#00ff00" d="M364.7 288.0h0"/><path stroke="#0000ff" d="M356.6 356.9h0"/><path stroke="#ff0000" d="M462.3 345.5h0"/><path stroke="#ff00ff" d="M428.8 387.0h0"/><path stroke="#0000ff" d="M293.4 376.4h0"/><path stroke="#ff0000" d="M434.9 344.4h0"/><path stroke="#ff00ff" d="M263.4 298.0h0"/><path stroke="#ff0000" d="M277.8 332.1h0M424.7 276.7h0"/><path stroke="#ff00ff" d="M401.2 251.5h0"/><path stroke="#00ff00" d="M260.4 341.0h0"/><path stroke="#ff0000" d="M262.5 293.6h0M422.5 343.0h0"/><path stroke="#0000ff" d="M310.1 340.9h0"/><path stroke="#00ff00" d="M321.2 309.2h0"/><path stroke="#ff0000" d="M312.6 229.5h0M461.1 360.8h0M294.2 391.9h0"/><path stroke="#ff00ff" d="M363.8 262.3h0"/><path stroke="#00ff00" d="M446.9 354.5h0"/><path stroke="#ff0000" d="M385.8 308.2h0M358.2 386.7h0M294.4 255.2h0"/><path stroke="#00ff00" d="M357.5 372.7h0M361.3 297.7h0"/><path stroke="#ff00ff" d="M375.0 387.0h0"/><path stroke="#ff0000" d="M412.0 360.3h0M331.2 380.8h0"/><path stroke="#00ff00" d="M267.4 331.9h0M358.8 367.9h0"/><path stroke="#ff0000" d="M462.2 344.6h0"/><path stroke="#0000ff" d="M291.4 365.2h0"/><path stroke="#00ff00" d="M448.1 360.6h0"/><path stroke="#ff0000" d="M434.7 354.3h0"/><path stroke="#00ff00" d="M306.0 310.4h0"/><path stroke="#ff0000" d="M330.7 207.1h0M293.5 387.6h0"/><path stroke="#ff00ff" d="M270.5 363.1h0"/><path stroke="#00ff00" d="M456.5 362.6h0"/><path stroke="#0000ff" d="M261.4 385.1h0"/><path stroke="#00ff00" d="M463.7 364.3h0"/><path stroke="#ff0000" d="M268.7 370.2h0"/><path stroke="#00ff00" d="M329.1 287.1h0"/><path stroke="#ff0000" d="M330.0 304.2h0"/><path stroke="#0000ff" d="M359.8 356.7h0"/><path stroke="#00ff00" d="M337.5 375.8h0"/><path stroke="#ff0000" d="M367.2 254.1h0M316.2 272.8h0M368.8 249.0h0"/><path stroke="#ff00ff" d="M357.1 362.9h0"/><path stroke="#00ff00" d="M262.5 362.9h0M366.5 288.5h0"/><path stroke="#ff00ff" d="M303.8 285.2h0"/><path stroke="#00ff00" d="M432.2 364.4h0M269.7 366.8h0M288.3 356.8h0"/><path stroke="#ff00ff" d="M258.1 377.0h0"/><path stroke="#ff0000" d="M461.5 346.0h0M309.3 235.1h0"/><path stroke="#ff00ff" d="M293.8 357.0h0M326.2 254.6h0"/><path stroke="#ff0000" d="M342.5 293.6h0M462.0 366.3h0M467.1 357.1h0"/><path stroke="#ff00ff" d="M350.4 368.6h0"/><path stroke="#ff0000" d="M268.5 390.9h0M469.8 373.2h0M358.8 364.5h0M401.9 234.4h0M260.6 318.6h0M447.1 389.9h0M462.9 355.9h0"/><path stroke="#0000ff" d="M328.1 348.2h0"/><path stroke="#ff0000" d="M338.1 291.5h0M290.0 303.6h0"/><path stroke="#0000ff" d="M294.0 390.6h0"/><path stroke="#00ff00" d="M293.8 316.8h0"/><path stroke="#0000ff" d="M458.7 379.8h0"/><path stroke="#ff00ff" d="M275.0 328.6h0"/><path stroke="#ff0000" d="M308.8 272.8h0"/><path stroke="#0000ff" d="M311.8 340.5h0M270.1 377.3h0"/><path stroke="#ff0000" d="M358.8 272.8h0"/><path stroke="#00ff00" d="M433.7 363.3h0"/><path stroke="#ff00ff" d="M304.5 251.0h0"/><path stroke="#ff0000" d="M355.6 387.1h0"/><path stroke="#00ff00" d="M388.7 334.2h0"/><path stroke="#ff0000" d="M287.1 389.6h0"/><path stroke="#00ff00" d="M328.1 333.0h0"/><path stroke="#ff00ff" d="M329.2 226.8h0"/><path stroke="#0000ff" d="M314.1 337.0h0"/><path stroke="#00ff00" d="M368.6 288.8h0"/><path stroke="#ff0000" d="M321.0 230.1h0M318.1 236.6h0M401.7 239.4h0M466.9 380.1h0"/><path stroke="#00ff00" d="M361.2 335.5h0"/><path stroke="#ff0000" d="M467.2 381.4h0"/><path stroke="#ff00ff" d="M401.2 322.4h0"/><path stroke="#0000ff" d="M342.5 350.1h0"/><path stroke="#ff0000" d="M437.3 351.7h0"/><path stroke="#ff00ff" d="M316.2 365.8h0"/><path stroke="#ff0000" d="M455.9 333.2h0"/><path stroke="#ff00ff" d="M366.3 261.8h0"/><path stroke="#ff0000" d="M469.2 369.5h0M445.6 353.6h0"/><path stroke="#0000ff" d="M267.8 379.8h0M459.4 388.2h0"/><path stroke="#ff0000" d="M438.0 345.6h0M365.9 242.8h0"/><path stroke="#00ff00" d="M386.7 314.3h0"/><path stroke="#ff0000" d="M281.2 375.8h0M260.6 342.4h0M337.1 391.3h0M385.6 311.6h0M431.2 375.1h0M441.1 370.2h0"/><path stroke="#ff00ff" d="M351.9 329.9h0"/><path stroke="#ff0000" d="M464.5 360.4h0M406.9 383.2h0M275.6 331.8h0M441.6 353.6h0"/><path stroke="#00ff00" d="M446.6 384.3h0"/><path stroke="#ff0000" d="M341.2 381.2h0M422.5 385.1h0"/><path stroke="#0000ff" d="M265.3 375.6h0"/><path stroke="#ff0000" d="M258.7 367.3h0"/><path stroke="#00ff00" d="M312.7 284.1h0"/><path stroke="#0000ff" d="M442.3 382.7h0M358.8 340.5h0"/><path stroke="#00ff00" d="M441.2 377.0h0"/><path stroke="#ff0000" d="M401.1 237.7h0M323.1 238.3h0"/><path stroke="#ff00ff" d="M302.9 243.0h0"/><path stroke="#ff0000" d="M412.8 327.9h0"/><path stroke="#0000ff" d="M362.9 333.8h0"/><path stroke="#00ff00" d="M405.0 309.2h0"/><path stroke="#0000ff" d="M264.7 374.6h0"/><path stroke="#ff0000" d="M361.3 391.7h0"/><path stroke="#0000ff" d="M292.1 376.4h0"/><path stroke="#ff0000" d="M289.8 314.9h0"/><path stroke="#00ff00" d="M335.0 354.5h0M302.5 377.6h0"/><path stroke="#ff0000" d="M257.2 388.5h0"/><path stroke="#00ff00" d="M262.5 335.0h0"/><path stroke="#ff0000" d="M448.8 369.5h0M326.4 237.2h0"/><path stroke="#00ff00" d="M274.6 364.7h0"/><path stroke="#ff00ff" d="M411.2 384.5h0"/><path stroke="#ff0000" d="M466.7 359.1h0"/><path stroke="#00ff00" d="M264.6 337.7h0"/><path stroke="#ff0000" d="M273.7 381.1h0"/><path stroke="#0000ff" d="M447.5 352.0h0"/><path stroke="#00ff00" d="M458.2 373.7h0"/><path stroke="#ff0000" d="M325.1 204.2h0"/><path stroke="#ff00ff" d="M400.0 337.4h0"/><path stroke="#ff0000" d="M425.6 286.6h0M430.6 385.0h0"/><path stroke="#ff00ff" d="M268.5 359.7h0M328.8 323.0h0"/><path stroke="#ff0000" d="M443.4 370.8h0"/><path stroke="#00ff00" d="M305.6 315.4h0"/><path stroke="#0000ff" d="M358.1 343.6h0"/><path stroke="#ff00ff" d="M310.9 249.1h0"/><path stroke="#00ff00" d="M415.0 332.4h0M388.3 331.3h0M462.0 360.8h0"/><path stroke="#ff00ff" d="M401.6 253.2h0"/><path stroke="#0000ff" d="M361.2 333.2h0"/><path stroke="#ff00ff" d="M361.9 310.5h0"/><path stroke="#0000ff" d="M267.5 381.3h0"/><path stroke="#ff00ff" d="M259.3 350.0h0"/><path stroke="#00ff00" d="M288.4 362.5h0M310.3 271.7h0"/><path stroke="#ff0000" d="M425.6 283.9h0"/><path stroke="#0000ff" d="M328.1 358.2h0"/><path stroke="#ff00ff" d="M374.4 325.5h0"/><path stroke="#0000ff" d="M265.6 377.6h0"/><path stroke="#ff00ff" d="M316.9 300.5h0"/><path stroke="#ff0000" d="M358.9 262.0h0"/><path stroke="#00ff00" d="M461.4 363.2h0"/><path stroke="#0000ff" d="M292.3 374.6h0"/><path stroke="#ff0000" d="M270.5 381.6h0M443.9 365.9h0M404.8 273.2h0M388.8 353.2h0"/><path stroke="#00ff00" d="M315.0 335.5h0"/><path stroke="#ff0000" d="M462.8 346.8h0"/><path stroke="#0000ff" d="M294.6 369.2h0"/><path stroke="#ff0000" d="M338.1 352.0h0M273.1 360.8h0"/><path stroke="#00ff00" d="M424.2 314.8h0"/><path stroke="#ff0000" d="M337.5 349.5h0M265.7 362.6h0M290.0 322.4h0"/><path stroke="#ff00ff" d="M313.4 252.8h0M315.4 250.3h0M364.2 265.8h0"/><path stroke="#ff0000" d="M359.6 256.5h0M341.9 369.5h0M400.6 289.6h0"/><path stroke="#00ff00" d="M310.2 290.5h0M325.3 283.4h0"/><path stroke="#0000ff" d="M259.1 383.9h0"/><path stroke="#ff0000" d="M374.4 312.4h0M438.3 358.5h0M432.9 353.0h0"/><path stroke="#ff00ff" d="M308.1 279.0h0"/><path stroke="#0000ff" d="M351.2 344.2h0"/><path stroke="#00ff00" d="M293.5 340.6h0"/><path stroke="#ff0000" d="M301.9 355.1h0M328.1 298.6h0M267.9 350.5h0M359.7 252.8h0M296.2 330.5h0"/><path stroke="#ff00ff" d="M412.5 329.9h0"/><path stroke="#ff0000" d="M356.3 381.6h0"/><path stroke="#0000ff" d="M374.4 378.2h0"/><path stroke="#ff0000" d="M266.2 275.3h0"/><path stroke="#ff00ff" d="M271.9 340.5h0"/><path stroke="#ff0000" d="M369.8 246.1h0"/><path stroke="#0000ff" d="M360.2 342.9h0"/><path stroke="#ff0000" d="M380.0 359.5h0M311.2 387.0h0"/><path stroke="#00ff00" d="M338.1 358.2h0"/><path stroke="#ff0000" d="M366.6 261.0h0"/><path stroke="#0000ff" d="M331.2 340.5h0"/><path stroke="#ff0000" d="M380.0 321.8h0"/><path stroke="#0000ff" d="M422.5 363.2h0"/><path stroke="#ff0000" d="M425.0 316.8h0"/><path stroke="#ff00ff" d="M326.2 241.5h0M406.2 302.4h0"/><path stroke="#00ff00" d="M387.3 315.5h0"/><path stroke="#ff0000" d="M272.5 339.9h0M343.1 317.4h0"/><path stroke="#00ff00" d="M460.1 355.6h0"/><path stroke="#ff0000" d="M374.4 389.5h0M413.3 321.9h0"/><path stroke="#0000ff" d="M360.4 341.9h0"/><path stroke="#ff00ff" d="M268.9 345.2h0"/><path stroke="#00ff00" d="M383.8 359.5h0M272.5 362.0h0M290.0 341.8h0M258.8 331.0h0"/><path stroke="#ff00ff" d="M313.1 294.9h0"/><path stroke="#ff0000" d="M401.9 259.0h0"/><path stroke="#00ff00" d="M312.2 289.3h0"/><path stroke="#ff0000" d="M280.6 372.0h0M459.9 364.3h0"/><path stroke="#ff00ff" d="M413.8 344.2h0"/><path stroke="#0000ff" d="M366.9 323.9h0"/><path stroke="#ff00ff" d="M456.2 348.1h0"/><path stroke="#ff0000" d="M401.0 234.8h0M350.8 371.7h0M425.0 277.1h0"/><path stroke="#ff00ff" d="M302.9 265.3h0M296.2 338.6h0"/><path stroke="#ff0000" d="M275.0 291.5h0M288.0 388.9h0"/><path stroke="#ff00ff" d="M367.6 258.1h0"/><path stroke="#0000ff" d="M306.9 348.2h0M324.2 325.0h0"/><path stroke="#00ff00" d="M458.4 363.5h0"/><path stroke="#ff0000" d="M367.6 253.0h0M411.8 318.2h0"/><path stroke="#ff00ff" d="M456.2 344.2h0M370.0 269.0h0"/><path stroke="#ff0000" d="M369.7 267.3h0M257.5 346.8h0M438.4 346.2h0"/><path stroke="#00ff00" d="M324.2 266.8h0"/><path stroke="#ff0000" d="M374.4 338.0h0"/><path stroke="#ff00ff" d="M262.5 309.9h0"/><path stroke="#ff0000" d="M386.9 290.1h0M324.6 193.1h0"/><path stroke="#00ff00" d="M293.8 345.5h0"/><path stroke="#ff0000" d="M469.8 371.9h0"/><path stroke="#00ff00" d="M355.0 359.2h0"/><path stroke="#ff00ff" d="M351.0 298.0h0"/><path stroke="#00ff00" d="M322.2 275.0h0M303.9 301.5h0"/><path stroke="#ff0000" d="M260.2 276.5h0M466.5 345.9h0M470.7 388.1h0"/><path stroke="#00ff00" d="M359.4 324.9h0"/><path stroke="#ff0000" d="M432.4 350.2h0M388.8 368.2h0M469.5 384.8h0M274.7 340.7h0"/><path stroke="#0000ff" d="M360.6 340.9h0"/><path stroke="#ff0000" d="M340.7 381.1h0M304.4 318.0h0M430.6 357.2h0M265.4 288.0h0"/><path stroke="#0000ff" d="M365.4 325.1h0"/><path stroke="#00ff00" d="M366.5 281.4h0"/><path stroke="#0000ff" d="M363.1 330.2h0"/><path stroke="#ff00ff" d="M275.0 352.0h0M354.8 380.0h0M428.1 350.8h0"/><path stroke="#ff0000" d="M293.8 387.2h0M341.0 391.7h0"/><path stroke="#ff00ff" d="M324.8 243.1h0"/><path stroke="#ff0000" d="M339.6 380.0h0M337.3 382.2h0M463.4 366.3h0M303.8 262.8h0M334.7 388.5h0M457.6 342.8h0"/><path stroke="#ff00ff" d="M327.5 352.6h0"/><path stroke="#00ff00" d="M415.6 385.8h0"/><path stroke="#ff0000" d="M385.7 305.9h0"/><path stroke="#0000ff" d="M310.6 346.7h0"/><path stroke="#00ff00" d="M269.3 359.3h0"/><path stroke="#ff0000" d="M387.6 284.5h0M356.9 294.2h0"/><path stroke="#ff00ff" d="M356.2 304.9h0"/><path stroke="#ff0000" d="M304.7 219.1h0M338.1 360.8h0M310.4 241.9h0"/><path stroke="#ff00ff" d="M366.5 262.7h0"/><path stroke="#ff0000" d="M310.1 229.2h0M467.0 366.7h0M262.1 346.6h0M455.7 344.2h0"/><path stroke="#0000ff" d="M261.4 374.9h0"/><path stroke="#ff0000" d="M386.8 292.0h0M324.8 210.2h0M446.2 377.0h0"/><path stroke="#ff00ff" d="M295.6 318.6h0"/><path stroke="#ff0000" d="M327.5 262.8h0"/><path stroke="#0000ff" d="M434.5 381.9h0"/><path stroke="#ff00ff" d="M261.9 287.8h0"/><path stroke="#0000ff" d="M331.2 362.0h0"/><path stroke="#ff0000" d="M429.5 371.9h0"/><path stroke="#0000ff" d="M388.0 360.0h0"/><path stroke="#ff0000" d="M256.2 307.4h0"/><path stroke="#0000ff" d="M362.1 356.0h0"/><path stroke="#ff0000" d="M365.5 257.7h0M310.0 294.9h0"/><path stroke="#0000ff" d="M330.0 384.5h0"/><path stroke="#ff0000" d="M360.7 254.8h0"/><path stroke="#ff00ff" d="M431.9 382.0h0"/><path stroke="#ff0000" d="M464.9 351.8h0M461.7 336.6h0"/><path stroke="#00ff00" d="M276.3 361.9h0"/><path stroke="#ff00ff" d="M261.9 301.8h0"/><path stroke="#0000ff" d="M263.2 378.2h0"/><path stroke="#ff0000" d="M430.0 388.1h0"/><path stroke="#ff00ff" d="M325.0 222.3h0"/><path stroke="#0000ff" d="M266.3 382.5h0"/><path stroke="#ff0000" d="M400.0 292.1h0M310.7 233.9h0"/><path stroke="#0000ff" d="M264.3 374.0h0"/><path stroke="#ff00ff" d="M309.0 244.6h0"/><path stroke="#0000ff" d="M317.5 377.6h0"/><path stroke="#ff0000" d="M261.9 264.0h0M287.2 372.8h0M385.5 302.1h0"/><path stroke="#ff00ff" d="M423.8 299.2h0"/><path stroke="#ff0000" d="M322.5 236.9h0"/><path stroke="#ff00ff" d="M406.2 379.5h0"/><path stroke="#ff0000" d="M313.3 254.4h0M289.0 373.7h0M460.8 351.7h0"/><path stroke="#0000ff" d="M425.0 345.5h0"/><path stroke="#ff0000" d="M357.0 354.4h0"/><path stroke="#ff00ff" d="M330.6 282.1h0"/><path stroke="#ff0000" d="M343.7 388.9h0M430.9 390.7h0"/><path stroke="#ff00ff" d="M457.3 382.2h0"/><path stroke="#ff0000" d="M462.1 343.9h0M352.6 361.9h0M468.9 387.5h0"/><path stroke="#ff00ff" d="M400.6 305.5h0M255.0 388.2h0"/><path stroke="#ff0000" d="M386.9 342.4h0M425.1 317.4h0M362.4 378.8h0M467.5 381.3h0M400.0 368.2h0"/><path stroke="#00ff00" d="M309.5 279.6h0"/><path stroke="#ff0000" d="M259.3 382.3h0M267.0 376.9h0M271.9 337.4h0"/><path stroke="#ff00ff" d="M317.5 386.4h0"/><path stroke="#ff0000" d="M374.4 383.2h0"/><path stroke="#00ff00" d="M271.6 368.6h0"/><path stroke="#0000ff" d="M322.6 326.9h0M353.7 362.4h0"/><path stroke="#ff0000" d="M460.7 369.4h0"/><path stroke="#ff00ff" d="M306.7 258.3h0"/><path stroke="#0000ff" d="M385.3 344.0h0"/><path stroke="#ff0000" d="M266.0 377.1h0M424.0 302.5h0"/><path stroke="#ff00ff" d="M311.6 242.6h0M446.2 379.6h0M312.0 256.9h0"/><path stroke="#ff0000" d="M385.6 297.4h0"/><path stroke="#ff00ff" d="M288.8 335.5h0"/><path stroke="#ff0000" d="M266.0 383.3h0M261.0 262.1h0"/><path stroke="#0000ff" d="M261.5 377.5h0"/><path stroke="#ff00ff" d="M432.9 361.8h0"/><path stroke="#ff0000" d="M370.3 267.5h0"/><path stroke="#ff00ff" d="M287.5 388.2h0"/><path stroke="#ff0000" d="M379.4 333.0h0"/><path stroke="#0000ff" d="M341.2 355.8h0"/><path stroke="#ff00ff" d="M356.1 355.2h0"/><path stroke="#0000ff" d="M369.8 331.1h0"/><path stroke="#ff0000" d="M432.0 345.2h0"/><path stroke="#00ff00" d="M308.8 328.0h0M441.1 375.4h0"/><path stroke="#ff00ff" d="M304.1 264.3h0"/><path stroke="#ff0000" d="M370.7 269.1h0"/><path stroke="#00ff00" d="M317.5 377.0h0M373.1 370.1h0"/><path stroke="#ff0000" d="M270.2 376.7h0M266.9 350.8h0"/><path stroke="#00ff00" d="M366.4 285.2h0"/><path stroke="#0000ff" d="M362.5 331.2h0"/><path stroke="#ff0000" d="M351.2 277.8h0"/><path stroke="#0000ff" d="M259.3 383.3h0"/><path stroke="#ff0000" d="M462.7 361.3h0M288.3 366.1h0M293.8 383.9h0M326.2 240.9h0"/><path stroke="#0000ff" d="M380.0 377.0h0"/><path stroke="#ff0000" d="M272.8 369.4h0"/><path stroke="#0000ff" d="M261.6 379.7h0"/><path stroke="#00ff00" d="M331.2 274.4h0"/><path stroke="#ff0000" d="M287.5 353.9h0"/><path stroke="#ff00ff" d="M421.9 382.0h0"/><path stroke="#ff0000" d="M447.1 366.8h0"/><path stroke="#0000ff" d="M363.8 331.8h0M401.2 328.6h0"/></g><polygon fill="#ff0000" stroke="#ff0000" stroke-width="0.6" stroke-linejoin="round" points="531.8,383.3 532.7,372.9 534.1,370.1 535.6,369.2 536.5,361.6 537.9,358.3 539.3,357.8 540.7,360.7 541.7,367.3 542.2,372.9 543.1,376.7 545.9,377.7 548.8,377.7 549.7,374.8 552.6,374.4 554.0,376.2 553.5,380.0 555.9,381.0 556.8,384.3 557.0,388.0 557.0,392.7 548.9,392.7 548.9,390.5 544.0,390.5 543.5,392.7 531.8,392.7"/><polygon fill="#ff00ff" stroke="#ff00ff" stroke-width="0.6" stroke-linejoin="round" points="531.8,389.5 534.8,382.3 538.2,376.5 541.1,381.3 544.5,383.2 549.4,383.7 551.3,384.0 552.3,389.0 557.0,389.0 557.0,392.7 548.9,392.7 548.9,390.5 544.0,390.5 543.5,392.7 531.8,392.7"/><polygon fill="#00ff00" stroke="#00ff00" stroke-width="0.6" stroke-linejoin="round" points="531.8,391.0 534.8,385.2 538.2,379.8 541.1,383.2 544.5,385.6 549.4,385.6 551.3,384.7 552.3,390.0 557.0,390.0 557.0,392.7 548.9,392.7 548.9,390.5 544.0,390.5 543.5,392.7 531.8,392.7"/><polygon fill="#0000ff" stroke="#0000ff" stroke-width="0.6" stroke-linejoin="round" points="534.8,392.7 536.5,389.5 538.0,387.0 539.5,387.0 541.0,389.5 543.5,392.7"/><polygon fill="#0000ff" stroke="#0000ff" stroke-width="0.6" stroke-linejoin="round" points="548.9,392.7 549.5,390.0 552.0,390.0 552.7,392.7"/><polygon fill="#ff0000" stroke="#ff0000" stroke-width="0.6" stroke-linejoin="round" points="566.3,384.7 566.3,380.0 567.9,376.1 569.4,371.4 570.2,365.9 571.4,364.0 573.0,365.9 574.1,369.8 574.5,375.3 575.3,380.0 575.5,385.5 575.7,391.0 573.6,392.9 569.4,392.9 565.9,391.0"/><polygon fill="#ff00ff" stroke="#ff00ff" stroke-width="0.6" stroke-linejoin="round" points="565.9,384.7 570.6,384.0 572.2,381.6 573.8,385.5 575.7,385.5 575.7,391.0 573.6,392.9 569.4,392.9 565.9,391.0"/><polygon fill="#00ff00" stroke="#00ff00" stroke-width="0.6" stroke-linejoin="round" points="565.9,386.3 570.6,385.9 572.2,384.7 573.8,387.1 575.7,387.1 575.7,391.0 573.6,392.9 569.4,392.9 565.9,391.0"/><polygon fill="#0000ff" stroke="#0000ff" stroke-width="0.6" stroke-linejoin="round" points="569.4,392.9 570.0,389.5 572.5,389.0 573.6,392.9"/><polygon fill="#ff0000" stroke="#ff0000" stroke-width="0.6" stroke-linejoin="round" points="601.5,376.0 605.0,376.0 605.6,360.3 606.2,352.0 608.6,350.3 609.8,353.2 610.5,369.0 614.7,370.0 614.7,376.0 612.6,377.4 612.6,380.2 601.5,380.2"/><polygon fill="#ff00ff" stroke="#ff00ff" stroke-width="0.6" stroke-linejoin="round" points="601.2,380.2 601.5,378.5 605.0,378.5 608.0,379.5 612.6,378.0 614.7,378.5 614.7,385.0 601.2,385.0"/><polygon fill="#00ff00" stroke="#00ff00" stroke-width="0.6" stroke-linejoin="round" points="605.0,385.0 611.2,385.0 611.2,388.0 605.0,388.0"/><polygon fill="#00ff00" stroke="#00ff00" stroke-width="0.6" stroke-linejoin="round" points="601.2,388.0 614.7,388.0 614.7,391.6 601.2,391.6"/><circle fill="#ff00ff" cx="607.8" cy="368.5" r="1.5"/><circle fill="#ff00ff" cx="607.8" cy="373.3" r="1.5"/></g>
<rect x="76.0" y="19.1" width="720.0" height="375.09999999999997" fill="none" stroke="#000" stroke-width="1.33"/>
<text x="71.4" y="401.90" text-anchor="end">0</text><text x="71.4" y="348.31" text-anchor="end">0.2</text><text x="71.4" y="294.73" text-anchor="end">0.4</text><text x="71.4" y="241.14" text-anchor="end">0.6</text><text x="71.4" y="187.56" text-anchor="end">0.8</text><text x="71.4" y="133.97" text-anchor="end">1</text><text x="71.4" y="80.39" text-anchor="end">1.2</text><text x="71.4" y="26.80" text-anchor="end">1.4</text><text x="127.03" y="410.55" text-anchor="middle">06:00</text><text x="229.89" y="410.55" text-anchor="middle">08:00</text><text x="332.74" y="410.55" text-anchor="middle">10:00</text><text x="435.60" y="410.55" text-anchor="middle">12:00</text><text x="538.46" y="410.55" text-anchor="middle">14:00</text><text x="641.31" y="410.55" text-anchor="middle">16:00</text><text x="744.17" y="410.55" text-anchor="middle">18:00</text><text x="796.2" y="428.2" text-anchor="end">2009-01-18</text><text x="440" y="427.5" text-anchor="middle">Time (JST)</text><text transform="translate(15.1,74.8) rotate(-90)" text-anchor="middle" style="letter-spacing:0.15px">Intensity (a.u.)</text><rect x="176.5" y="10.8" width="15" height="2" fill="#0000ff"/><text x="198" y="14.5" style="fill:#0000ff">368nm</text><rect x="321" y="10.8" width="15" height="2" fill="#00ff00"/><text x="343" y="14.5" style="fill:#00ff00">500nm</text><rect x="464.5" y="10.8" width="15" height="2" fill="#ff00ff"/><text x="486.5" y="14.5" style="fill:#ff00ff">675nm</text><rect x="608.5" y="10.8" width="15" height="2" fill="#ff0000"/><text x="631" y="14.5" style="fill:#ff0000">778nm</text>
</svg>
</body></html>
